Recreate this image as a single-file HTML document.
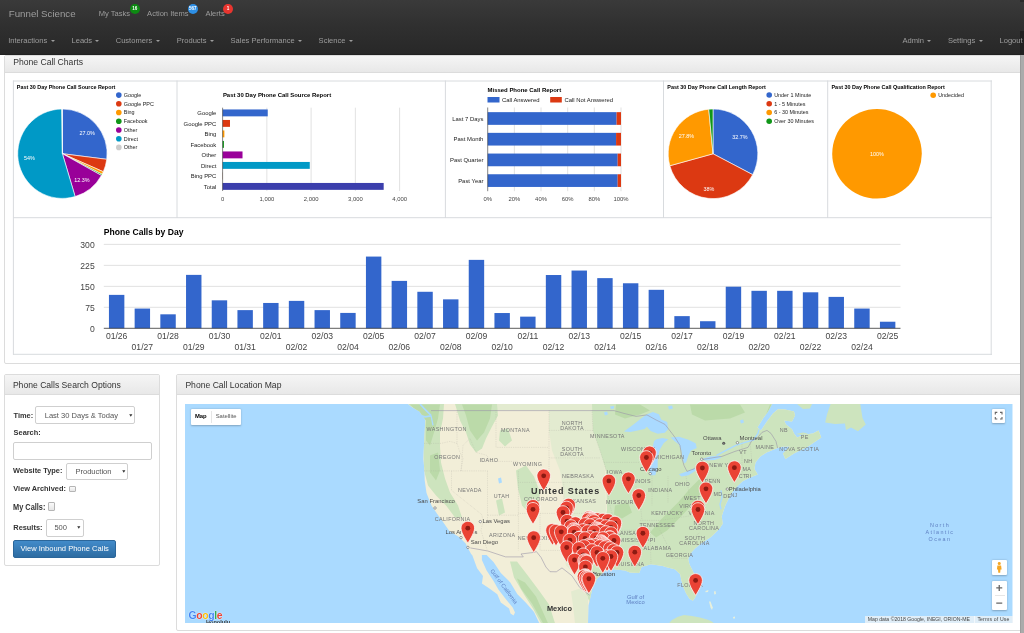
<!DOCTYPE html><html><head><meta charset="utf-8"><title>Funnel Science</title><style>
*{box-sizing:border-box;margin:0;padding:0}
html,body{width:1024px;height:633px;overflow:hidden;background:#fff}
body{position:relative;font-family:"Liberation Sans", Arial, sans-serif}
.a{position:absolute}
.t{position:absolute;white-space:nowrap;line-height:1}
svg text{font-family:"Liberation Sans", Arial, sans-serif}
.nav{left:0;top:0;width:1024px;height:54.8px;background:linear-gradient(to bottom,#3a3a3a 0%,#303030 45%,#282828 97%,#1e1e1e 100%)}
.nt{color:#9d9d9d}
.car{display:inline-block;width:0;height:0;border-top:2.2px solid #9d9d9d;border-left:2.2px solid transparent;border-right:2.2px solid transparent;vertical-align:middle;margin-left:3.4px;position:relative;top:-0.6px}
.panel{position:absolute;border:1px solid #dcdcdc;border-radius:2px;background:#fff}
.ph{position:absolute;left:0;right:0;top:0;background:linear-gradient(to bottom,#f5f5f5 0%,#e8e8e8 100%);border-bottom:1px solid #dcdcdc}
.sel{position:absolute;border:1px solid #cfcfcf;border-radius:2px;background:#fff}
.cb{position:absolute;border:1px solid #b5b5b5;border-radius:1px;background:linear-gradient(#fafafa,#e6e6e6)}
</style></head><body>
<div class="a nav"></div>
<div class="a" style="left:1020px;top:0;width:4px;height:2px;background:#2a2a2a"></div>
<div class="a" style="left:1019.5px;top:30.8px;width:4.5px;height:23.6px;background:#202020"></div>
<div class="t" style="left:8.80px;top:8.79px;font-size:9.7px;color:#9d9d9d;">Funnel Science</div>
<div class="t" style="left:98.80px;top:9.91px;font-size:7.55px;color:#9d9d9d;">My Tasks</div>
<div class="t" style="left:147.10px;top:9.91px;font-size:7.55px;color:#9d9d9d;">Action Items</div>
<div class="t" style="left:205.40px;top:9.91px;font-size:7.55px;color:#9d9d9d;">Alerts</div>
<div class="a" style="left:129.80px;top:4.20px;width:9.80px;height:9.80px;border-radius:50%;background:#0d8a12"></div><div class="t" style="left:134.70px;top:6.81px;font-size:4.6px;color:#fff;font-weight:bold;transform:translateX(-50%);">16</div>
<div class="a" style="left:187.80px;top:3.80px;width:10.00px;height:10.00px;border-radius:50%;background:#2d8fe6"></div><div class="t" style="left:192.80px;top:6.51px;font-size:4.6px;color:#fff;font-weight:bold;transform:translateX(-50%);">567</div>
<div class="a" style="left:223.10px;top:4.20px;width:9.80px;height:9.80px;border-radius:50%;background:#e8352f"></div><div class="t" style="left:228.00px;top:6.81px;font-size:4.6px;color:#fff;font-weight:bold;transform:translateX(-50%);">1</div>
<div class="t" style="left:8.20px;top:37.21px;font-size:7.55px;color:#9d9d9d;">Interactions<span class="car"></span></div>
<div class="t" style="left:71.50px;top:37.21px;font-size:7.55px;color:#9d9d9d;">Leads<span class="car"></span></div>
<div class="t" style="left:115.70px;top:37.21px;font-size:7.55px;color:#9d9d9d;">Customers<span class="car"></span></div>
<div class="t" style="left:176.70px;top:37.21px;font-size:7.55px;color:#9d9d9d;">Products<span class="car"></span></div>
<div class="t" style="left:230.50px;top:37.21px;font-size:7.55px;color:#9d9d9d;">Sales Performance<span class="car"></span></div>
<div class="t" style="left:318.60px;top:37.21px;font-size:7.55px;color:#9d9d9d;">Science<span class="car"></span></div>
<div class="t" style="left:902.50px;top:37.21px;font-size:7.55px;color:#9d9d9d;">Admin<span class="car"></span></div>
<div class="t" style="left:947.90px;top:37.21px;font-size:7.55px;color:#9d9d9d;">Settings<span class="car"></span></div>
<div class="t" style="left:999.50px;top:37.21px;font-size:7.55px;color:#9d9d9d;">Logout</div>
<div class="a" style="left:1020px;top:54.8px;width:4px;height:579px;background:#ababab;border-left:1px solid #9c9c9c;z-index:5"></div>
<div class="panel" style="left:4.1px;top:54.8px;width:1030px;height:309.2px"><div class="ph" style="height:17.4px"></div></div>
<div class="t" style="left:13.20px;top:57.82px;font-size:8.6px;color:#333;">Phone Call Charts</div>
<svg class="a" style="left:0;top:0" width="1024" height="633" viewBox="0 0 1024 633"><line x1="13" y1="81.0" x2="992" y2="81.0" stroke="#d8dbde" stroke-width="1"/><line x1="13" y1="217.7" x2="992" y2="217.7" stroke="#d8dbde" stroke-width="1"/><line x1="13" y1="354.3" x2="992" y2="354.3" stroke="#d8dbde" stroke-width="1"/><line x1="13.4" y1="80.5" x2="13.4" y2="354.8" stroke="#d8dbde" stroke-width="1"/><line x1="991.2" y1="80.5" x2="991.2" y2="354.8" stroke="#d8dbde" stroke-width="1"/><line x1="177.0" y1="80.5" x2="177.0" y2="218" stroke="#d8dbde" stroke-width="1"/><line x1="445.4" y1="80.5" x2="445.4" y2="218" stroke="#d8dbde" stroke-width="1"/><line x1="663.5" y1="80.5" x2="663.5" y2="218" stroke="#d8dbde" stroke-width="1"/><line x1="827.7" y1="80.5" x2="827.7" y2="218" stroke="#d8dbde" stroke-width="1"/><text x="16.80" y="89.00" font-size="5.41" fill="#000" font-weight="bold">Past 30 Day Phone Call Source Report</text><path d="M62.4,153.7 L62.40,109.00 A44.7,44.7 0 0 1 106.75,159.30 Z" fill="#3366cc" stroke="#fff" stroke-width="0.6" stroke-linejoin="round"/><path d="M62.4,153.7 L106.75,159.30 A44.7,44.7 0 0 1 103.31,171.71 Z" fill="#dc3912" stroke="#fff" stroke-width="0.6" stroke-linejoin="round"/><path d="M62.4,153.7 L103.31,171.71 A44.7,44.7 0 0 1 102.10,174.24 Z" fill="#ff9900" stroke="#fff" stroke-width="0.6" stroke-linejoin="round"/><path d="M62.4,153.7 L102.10,174.24 A44.7,44.7 0 0 1 101.43,175.48 Z" fill="#109618" stroke="#fff" stroke-width="0.6" stroke-linejoin="round"/><path d="M62.4,153.7 L101.43,175.48 A44.7,44.7 0 0 1 75.14,196.55 Z" fill="#990099" stroke="#fff" stroke-width="0.6" stroke-linejoin="round"/><path d="M62.4,153.7 L75.14,196.55 A44.7,44.7 0 1 1 61.84,109.00 Z" fill="#0099c6" stroke="#fff" stroke-width="0.6" stroke-linejoin="round"/><path d="M62.4,153.7 L61.84,109.00 A44.7,44.7 0 0 1 62.40,109.00 Z" fill="#cccccc" stroke="#fff" stroke-width="0.6" stroke-linejoin="round"/><text x="87.10" y="135.40" font-size="5.41" fill="#fff" text-anchor="middle">27.0%</text><text x="29.30" y="160.20" font-size="5.41" fill="#fff" text-anchor="middle">54%</text><text x="82.00" y="182.00" font-size="5.41" fill="#fff" text-anchor="middle">12.3%</text><circle cx="118.8" cy="95.10" r="2.8" fill="#3366cc"/><text x="123.80" y="97.00" font-size="5.41" fill="#222">Google</text><circle cx="118.8" cy="103.82" r="2.8" fill="#dc3912"/><text x="123.80" y="105.72" font-size="5.41" fill="#222">Google PPC</text><circle cx="118.8" cy="112.54" r="2.8" fill="#ff9900"/><text x="123.80" y="114.44" font-size="5.41" fill="#222">Bing</text><circle cx="118.8" cy="121.26" r="2.8" fill="#109618"/><text x="123.80" y="123.16" font-size="5.41" fill="#222">Facebook</text><circle cx="118.8" cy="129.98" r="2.8" fill="#990099"/><text x="123.80" y="131.88" font-size="5.41" fill="#222">Other</text><circle cx="118.8" cy="138.70" r="2.8" fill="#0099c6"/><text x="123.80" y="140.60" font-size="5.41" fill="#222">Direct</text><circle cx="118.8" cy="147.42" r="2.8" fill="#cccccc"/><text x="123.80" y="149.32" font-size="5.41" fill="#222">Other</text><text x="222.90" y="96.70" font-size="5.95" fill="#000" font-weight="bold">Past 30 Day Phone Call Source Report</text><line x1="266.85" y1="107.7" x2="266.85" y2="191" stroke="#cccccc" stroke-width="0.6"/><line x1="311.10" y1="107.7" x2="311.10" y2="191" stroke="#cccccc" stroke-width="0.6"/><line x1="355.35" y1="107.7" x2="355.35" y2="191" stroke="#cccccc" stroke-width="0.6"/><line x1="399.60" y1="107.7" x2="399.60" y2="191" stroke="#cccccc" stroke-width="0.6"/><rect x="222.6" y="109.45" width="45.13" height="6.9" fill="#3366cc"/><text x="216.30" y="115.00" font-size="5.9" fill="#222" text-anchor="end">Google</text><rect x="222.6" y="119.95" width="7.39" height="6.9" fill="#dc3912"/><text x="216.30" y="125.50" font-size="5.9" fill="#222" text-anchor="end">Google PPC</text><rect x="222.6" y="130.45" width="1.77" height="6.9" fill="#ff9900"/><text x="216.30" y="136.00" font-size="5.9" fill="#222" text-anchor="end">Bing</text><rect x="222.6" y="140.95" width="1.33" height="6.9" fill="#109618"/><text x="216.30" y="146.50" font-size="5.9" fill="#222" text-anchor="end">Facebook</text><rect x="222.6" y="151.45" width="19.91" height="6.9" fill="#990099"/><text x="216.30" y="157.00" font-size="5.9" fill="#222" text-anchor="end">Other</text><rect x="222.6" y="161.95" width="87.17" height="6.9" fill="#0099c6"/><text x="216.30" y="167.50" font-size="5.9" fill="#222" text-anchor="end">Direct</text><rect x="222.6" y="172.45" width="0.27" height="6.9" fill="#b77b5a"/><text x="216.30" y="178.00" font-size="5.9" fill="#222" text-anchor="end">Bing PPC</text><rect x="222.6" y="182.95" width="161.07" height="6.9" fill="#3b3eac"/><text x="216.30" y="188.50" font-size="5.9" fill="#222" text-anchor="end">Total</text><line x1="222.6" y1="107.7" x2="222.6" y2="191" stroke="#333" stroke-width="0.6"/><text x="222.60" y="200.50" font-size="5.9" fill="#444" text-anchor="middle">0</text><text x="266.85" y="200.50" font-size="5.9" fill="#444" text-anchor="middle">1,000</text><text x="311.10" y="200.50" font-size="5.9" fill="#444" text-anchor="middle">2,000</text><text x="355.35" y="200.50" font-size="5.9" fill="#444" text-anchor="middle">3,000</text><text x="399.60" y="200.50" font-size="5.9" fill="#444" text-anchor="middle">4,000</text><text x="487.50" y="91.70" font-size="5.98" fill="#000" font-weight="bold">Missed Phone Call Report</text><rect x="487.5" y="97" width="12" height="5.5" fill="#3366cc"/><text x="501.90" y="101.80" font-size="5.92" fill="#222">Call Answered</text><rect x="550.2" y="97" width="11.6" height="5.5" fill="#dc3912"/><text x="564.40" y="101.80" font-size="5.92" fill="#222">Call Not Answered</text><line x1="514.36" y1="107.5" x2="514.36" y2="191.2" stroke="#cccccc" stroke-width="0.6"/><line x1="541.02" y1="107.5" x2="541.02" y2="191.2" stroke="#cccccc" stroke-width="0.6"/><line x1="567.68" y1="107.5" x2="567.68" y2="191.2" stroke="#cccccc" stroke-width="0.6"/><line x1="594.34" y1="107.5" x2="594.34" y2="191.2" stroke="#cccccc" stroke-width="0.6"/><line x1="621.00" y1="107.5" x2="621.00" y2="191.2" stroke="#cccccc" stroke-width="0.6"/><rect x="487.7" y="112.15" width="128.90" height="12.7" fill="#3366cc"/><rect x="616.60" y="112.15" width="4.40" height="12.7" fill="#dc3912"/><text x="483.40" y="120.60" font-size="5.9" fill="#222" text-anchor="end">Last 7 Days</text><rect x="487.7" y="132.85" width="128.37" height="12.7" fill="#3366cc"/><rect x="616.07" y="132.85" width="4.93" height="12.7" fill="#dc3912"/><text x="483.40" y="141.30" font-size="5.9" fill="#222" text-anchor="end">Past Month</text><rect x="487.7" y="153.55" width="129.97" height="12.7" fill="#3366cc"/><rect x="617.67" y="153.55" width="3.33" height="12.7" fill="#dc3912"/><text x="483.40" y="162.00" font-size="5.9" fill="#222" text-anchor="end">Past Quarter</text><rect x="487.7" y="174.25" width="129.97" height="12.7" fill="#3366cc"/><rect x="617.67" y="174.25" width="3.33" height="12.7" fill="#dc3912"/><text x="483.40" y="182.70" font-size="5.9" fill="#222" text-anchor="end">Past Year</text><line x1="487.7" y1="107.5" x2="487.7" y2="191.2" stroke="#333" stroke-width="0.6"/><text x="487.70" y="200.60" font-size="5.9" fill="#444" text-anchor="middle">0%</text><text x="514.36" y="200.60" font-size="5.9" fill="#444" text-anchor="middle">20%</text><text x="541.02" y="200.60" font-size="5.9" fill="#444" text-anchor="middle">40%</text><text x="567.68" y="200.60" font-size="5.9" fill="#444" text-anchor="middle">60%</text><text x="594.34" y="200.60" font-size="5.9" fill="#444" text-anchor="middle">80%</text><text x="621.00" y="200.60" font-size="5.9" fill="#444" text-anchor="middle">100%</text><text x="667.30" y="89.00" font-size="5.43" fill="#000" font-weight="bold">Past 30 Day Phone Call Length Report</text><path d="M713.0,153.8 L713.00,109.00 A44.8,44.8 0 0 1 752.66,174.64 Z" fill="#3366cc" stroke="#fff" stroke-width="0.6" stroke-linejoin="round"/><path d="M713.0,153.8 L752.66,174.64 A44.8,44.8 0 0 1 669.83,165.76 Z" fill="#dc3912" stroke="#fff" stroke-width="0.6" stroke-linejoin="round"/><path d="M713.0,153.8 L669.83,165.76 A44.8,44.8 0 0 1 708.78,109.20 Z" fill="#ff9900" stroke="#fff" stroke-width="0.6" stroke-linejoin="round"/><path d="M713.0,153.8 L708.78,109.20 A44.8,44.8 0 0 1 713.00,109.00 Z" fill="#109618" stroke="#fff" stroke-width="0.6" stroke-linejoin="round"/><text x="740.00" y="139.20" font-size="5.41" fill="#fff" text-anchor="middle">32.7%</text><text x="709.00" y="191.20" font-size="5.41" fill="#fff" text-anchor="middle">38%</text><text x="686.50" y="137.90" font-size="5.41" fill="#fff" text-anchor="middle">27.8%</text><circle cx="769.2" cy="95.00" r="2.8" fill="#3366cc"/><text x="774.20" y="96.90" font-size="5.41" fill="#222">Under 1 Minute</text><circle cx="769.2" cy="103.75" r="2.8" fill="#dc3912"/><text x="774.20" y="105.65" font-size="5.41" fill="#222">1 - 5 Minutes</text><circle cx="769.2" cy="112.50" r="2.8" fill="#ff9900"/><text x="774.20" y="114.40" font-size="5.41" fill="#222">6 - 30 Minutes</text><circle cx="769.2" cy="121.25" r="2.8" fill="#109618"/><text x="774.20" y="123.15" font-size="5.41" fill="#222">Over 30 Minutes</text><text x="831.50" y="89.00" font-size="5.43" fill="#000" font-weight="bold">Past 30 Day Phone Call Qualification Report</text><circle cx="877" cy="153.8" r="44.8" fill="#ff9900"/><text x="877.00" y="155.80" font-size="5.41" fill="#fff" text-anchor="middle">100%</text><circle cx="933.2" cy="95.20" r="2.8" fill="#ff9900"/><text x="938.20" y="97.10" font-size="5.41" fill="#222">Undecided</text><text x="103.80" y="234.90" font-size="8.6" fill="#000" font-weight="bold">Phone Calls by Day</text><line x1="103.8" y1="244.40" x2="900.5" y2="244.40" stroke="#d9d9d9" stroke-width="0.8"/><line x1="103.8" y1="265.38" x2="900.5" y2="265.38" stroke="#d9d9d9" stroke-width="0.8"/><line x1="103.8" y1="286.35" x2="900.5" y2="286.35" stroke="#d9d9d9" stroke-width="0.8"/><line x1="103.8" y1="307.32" x2="900.5" y2="307.32" stroke="#d9d9d9" stroke-width="0.8"/><text x="94.70" y="247.70" font-size="8.6" fill="#444" text-anchor="end">300</text><text x="94.70" y="268.68" font-size="8.6" fill="#444" text-anchor="end">225</text><text x="94.70" y="289.65" font-size="8.6" fill="#444" text-anchor="end">150</text><text x="94.70" y="310.62" font-size="8.6" fill="#444" text-anchor="end">75</text><text x="94.70" y="331.60" font-size="8.6" fill="#444" text-anchor="end">0</text><rect x="108.94" y="294.88" width="15.42" height="33.42" fill="#3366cc"/><text x="116.65" y="338.70" font-size="8.6" fill="#444" text-anchor="middle">01/26</text><rect x="134.64" y="308.56" width="15.42" height="19.74" fill="#3366cc"/><text x="142.35" y="350.40" font-size="8.6" fill="#444" text-anchor="middle">01/27</text><rect x="160.34" y="314.32" width="15.42" height="13.98" fill="#3366cc"/><text x="168.05" y="338.70" font-size="8.6" fill="#444" text-anchor="middle">01/28</text><rect x="186.04" y="274.88" width="15.42" height="53.42" fill="#3366cc"/><text x="193.75" y="350.40" font-size="8.6" fill="#444" text-anchor="middle">01/29</text><rect x="211.74" y="300.33" width="15.42" height="27.97" fill="#3366cc"/><text x="219.45" y="338.70" font-size="8.6" fill="#444" text-anchor="middle">01/30</text><rect x="237.44" y="310.12" width="15.42" height="18.18" fill="#3366cc"/><text x="245.15" y="350.40" font-size="8.6" fill="#444" text-anchor="middle">01/31</text><rect x="263.14" y="302.96" width="15.42" height="25.34" fill="#3366cc"/><text x="270.85" y="338.70" font-size="8.6" fill="#444" text-anchor="middle">02/01</text><rect x="288.84" y="300.89" width="15.42" height="27.41" fill="#3366cc"/><text x="296.55" y="350.40" font-size="8.6" fill="#444" text-anchor="middle">02/02</text><rect x="314.54" y="310.12" width="15.42" height="18.18" fill="#3366cc"/><text x="322.25" y="338.70" font-size="8.6" fill="#444" text-anchor="middle">02/03</text><rect x="340.24" y="312.92" width="15.42" height="15.38" fill="#3366cc"/><text x="347.95" y="350.40" font-size="8.6" fill="#444" text-anchor="middle">02/04</text><rect x="365.94" y="256.57" width="15.42" height="71.73" fill="#3366cc"/><text x="373.65" y="338.70" font-size="8.6" fill="#444" text-anchor="middle">02/05</text><rect x="391.64" y="280.90" width="15.42" height="47.40" fill="#3366cc"/><text x="399.35" y="350.40" font-size="8.6" fill="#444" text-anchor="middle">02/06</text><rect x="417.34" y="291.78" width="15.42" height="36.52" fill="#3366cc"/><text x="425.05" y="338.70" font-size="8.6" fill="#444" text-anchor="middle">02/07</text><rect x="443.04" y="299.35" width="15.42" height="28.95" fill="#3366cc"/><text x="450.75" y="350.40" font-size="8.6" fill="#444" text-anchor="middle">02/08</text><rect x="468.74" y="259.87" width="15.42" height="68.43" fill="#3366cc"/><text x="476.45" y="338.70" font-size="8.6" fill="#444" text-anchor="middle">02/09</text><rect x="494.44" y="313.03" width="15.42" height="15.27" fill="#3366cc"/><text x="502.15" y="350.40" font-size="8.6" fill="#444" text-anchor="middle">02/10</text><rect x="520.14" y="316.64" width="15.42" height="11.66" fill="#3366cc"/><text x="527.85" y="338.70" font-size="8.6" fill="#444" text-anchor="middle">02/11</text><rect x="545.84" y="275.02" width="15.42" height="53.28" fill="#3366cc"/><text x="553.55" y="350.40" font-size="8.6" fill="#444" text-anchor="middle">02/12</text><rect x="571.54" y="270.55" width="15.42" height="57.75" fill="#3366cc"/><text x="579.25" y="338.70" font-size="8.6" fill="#444" text-anchor="middle">02/13</text><rect x="597.24" y="278.13" width="15.42" height="50.17" fill="#3366cc"/><text x="604.95" y="350.40" font-size="8.6" fill="#444" text-anchor="middle">02/14</text><rect x="622.94" y="283.27" width="15.42" height="45.03" fill="#3366cc"/><text x="630.65" y="338.70" font-size="8.6" fill="#444" text-anchor="middle">02/15</text><rect x="648.64" y="289.82" width="15.42" height="38.48" fill="#3366cc"/><text x="656.35" y="350.40" font-size="8.6" fill="#444" text-anchor="middle">02/16</text><rect x="674.34" y="316.13" width="15.42" height="12.17" fill="#3366cc"/><text x="682.05" y="338.70" font-size="8.6" fill="#444" text-anchor="middle">02/17</text><rect x="700.04" y="321.22" width="15.42" height="7.08" fill="#3366cc"/><text x="707.75" y="350.40" font-size="8.6" fill="#444" text-anchor="middle">02/18</text><rect x="725.74" y="286.71" width="15.42" height="41.59" fill="#3366cc"/><text x="733.45" y="338.70" font-size="8.6" fill="#444" text-anchor="middle">02/19</text><rect x="751.44" y="290.82" width="15.42" height="37.48" fill="#3366cc"/><text x="759.15" y="350.40" font-size="8.6" fill="#444" text-anchor="middle">02/20</text><rect x="777.14" y="290.82" width="15.42" height="37.48" fill="#3366cc"/><text x="784.85" y="338.70" font-size="8.6" fill="#444" text-anchor="middle">02/21</text><rect x="802.84" y="292.31" width="15.42" height="35.99" fill="#3366cc"/><text x="810.55" y="350.40" font-size="8.6" fill="#444" text-anchor="middle">02/22</text><rect x="828.54" y="296.89" width="15.42" height="31.41" fill="#3366cc"/><text x="836.25" y="338.70" font-size="8.6" fill="#444" text-anchor="middle">02/23</text><rect x="854.24" y="308.56" width="15.42" height="19.74" fill="#3366cc"/><text x="861.95" y="350.40" font-size="8.6" fill="#444" text-anchor="middle">02/24</text><rect x="879.94" y="321.73" width="15.42" height="6.57" fill="#3366cc"/><text x="887.65" y="338.70" font-size="8.6" fill="#444" text-anchor="middle">02/25</text><line x1="103.8" y1="328.3" x2="900.5" y2="328.3" stroke="#333" stroke-width="0.8"/></svg>
<div class="panel" style="left:4.4px;top:374.2px;width:155.4px;height:191.8px"><div class="ph" style="height:20.2px"></div></div><div class="t" style="left:12.90px;top:380.72px;font-size:8.6px;color:#333;">Phone Calls Search Options</div><div class="t" style="left:13.60px;top:411.54px;font-size:7.4px;color:#333;font-weight:bold;">Time:</div><div class="sel" style="left:35.4px;top:406.4px;width:100.10px;height:18.00px"></div><div class="t" style="left:44.70px;top:411.71px;font-size:7.55px;color:#555;">Last 30 Days &amp; Today</div><svg class="a" style="left:128.90px;top:414.30px" width="4" height="3" viewBox="0 0 4 3"><path d="M0.2,0.2H3.4L1.8,2.8Z" fill="#333"/></svg><div class="t" style="left:13.60px;top:429.14px;font-size:7.4px;color:#333;font-weight:bold;">Search:</div><div class="sel" style="left:13.3px;top:441.5px;width:138.3px;height:18px"></div><div class="t" style="left:13.00px;top:467.44px;font-size:7.4px;color:#333;font-weight:bold;">Website Type:</div><div class="sel" style="left:66.3px;top:462.6px;width:62.20px;height:17.60px"></div><div class="t" style="left:75.40px;top:467.71px;font-size:7.55px;color:#555;">Production</div><svg class="a" style="left:121.90px;top:470.30px" width="4" height="3" viewBox="0 0 4 3"><path d="M0.2,0.2H3.4L1.8,2.8Z" fill="#333"/></svg><div class="t" style="left:13.30px;top:485.34px;font-size:7.4px;color:#333;font-weight:bold;">View Archived:</div><div class="cb" style="left:69.2px;top:485.9px;width:6.6px;height:6.6px"></div><div class="t" style="left:13.30px;top:502.07px;font-size:9.6px;color:#333;font-weight:bold;transform:scaleX(0.77);transform-origin:0 0;">My Calls:</div><div class="cb" style="left:48.3px;top:502.3px;width:6.5px;height:8.5px"></div><div class="t" style="left:13.30px;top:523.54px;font-size:7.4px;color:#333;font-weight:bold;">Results:</div><div class="sel" style="left:45.5px;top:518.5px;width:38.20px;height:18.00px"></div><div class="t" style="left:54.40px;top:523.81px;font-size:7.55px;color:#555;">500</div><svg class="a" style="left:77.10px;top:526.40px" width="4" height="3" viewBox="0 0 4 3"><path d="M0.2,0.2H3.4L1.8,2.8Z" fill="#333"/></svg><div class="a" style="left:13.3px;top:539.7px;width:102.7px;height:18.2px;border-radius:2px;border:1px solid #2b669a;background:linear-gradient(to bottom,#428bca 0%,#2d6ca2 100%)"></div><div class="t" style="left:64.65px;top:544.81px;font-size:7.55px;color:#fff;transform:translateX(-50%);">View Inbound Phone Calls</div><div class="panel" style="left:176.0px;top:374.3px;width:860px;height:257.2px"><div class="ph" style="height:20.2px"></div></div><div class="t" style="left:185.40px;top:380.92px;font-size:8.6px;color:#333;">Phone Call Location Map</div>
<svg class="a" style="left:185.0px;top:403.6px" width="827.5" height="219.2" viewBox="185.0 403.6 827.5 219.2"><defs><clipPath id="lc"><polygon points="408.0,403.6 772.0,403.6 768.0,411.0 763.0,418.0 757.5,427.0 761.0,430.0 767.0,421.0 773.0,413.0 778.0,408.8 785.0,409.0 794.0,411.0 795.0,415.0 792.0,421.0 784.0,420.0 786.0,424.0 792.0,428.8 794.0,433.0 797.0,437.0 805.0,434.0 813.0,433.0 818.5,430.0 821.3,437.0 808.0,446.0 794.0,453.0 785.4,458.6 783.0,453.0 790.0,446.0 783.0,446.0 777.6,447.6 766.5,452.0 760.0,456.4 755.5,462.0 754.4,468.6 757.7,474.1 750.0,477.0 742.6,480.8 737.0,486.0 731.2,493.0 725.5,504.5 721.7,515.8 722.7,523.4 719.6,528.0 711.0,536.5 705.6,540.0 701.6,542.7 694.9,548.0 690.2,553.4 688.2,558.8 689.5,564.2 692.9,570.9 695.6,577.6 698.3,584.3 697.6,591.0 695.6,596.4 692.9,600.4 689.5,598.4 686.2,593.0 683.5,587.0 681.5,580.3 680.1,573.6 674.8,568.9 666.7,566.8 662.7,565.5 651.0,563.8 641.6,566.7 639.2,572.6 629.8,572.0 625.2,570.2 611.1,568.5 606.4,569.0 597.0,578.4 592.3,587.8 590.6,596.0 588.5,605.0 588.0,622.8 539.3,622.8 534.0,611.6 525.7,602.1 517.4,593.9 510.3,582.0 500.8,572.5 493.7,561.9 486.6,554.7 481.9,554.7 481.9,559.5 486.6,570.1 493.7,580.8 498.4,589.1 506.7,599.8 512.7,607.1 515.0,612.0 513.5,615.0 510.5,613.0 509.1,608.1 500.8,602.1 497.3,593.9 489.0,587.9 481.9,583.2 483.0,575.5 477.1,567.8 472.4,555.0 470.8,553.0 468.3,548.3 465.7,543.2 459.4,536.9 449.3,530.6 443.0,521.7 436.7,512.9 431.6,505.3 426.5,492.6 424.7,480.0 424.4,470.0 423.4,458.6 423.7,450.8 425.0,425.4 425.4,419.5 419.5,411.0 411.0,406.0"/></clipPath></defs><rect x="185.0" y="403.6" width="827.5" height="219.19999999999993" fill="#aadaff"/><polygon points="408.0,403.6 772.0,403.6 768.0,411.0 763.0,418.0 757.5,427.0 761.0,430.0 767.0,421.0 773.0,413.0 778.0,408.8 785.0,409.0 794.0,411.0 795.0,415.0 792.0,421.0 784.0,420.0 786.0,424.0 792.0,428.8 794.0,433.0 797.0,437.0 805.0,434.0 813.0,433.0 818.5,430.0 821.3,437.0 808.0,446.0 794.0,453.0 785.4,458.6 783.0,453.0 790.0,446.0 783.0,446.0 777.6,447.6 766.5,452.0 760.0,456.4 755.5,462.0 754.4,468.6 757.7,474.1 750.0,477.0 742.6,480.8 737.0,486.0 731.2,493.0 725.5,504.5 721.7,515.8 722.7,523.4 719.6,528.0 711.0,536.5 705.6,540.0 701.6,542.7 694.9,548.0 690.2,553.4 688.2,558.8 689.5,564.2 692.9,570.9 695.6,577.6 698.3,584.3 697.6,591.0 695.6,596.4 692.9,600.4 689.5,598.4 686.2,593.0 683.5,587.0 681.5,580.3 680.1,573.6 674.8,568.9 666.7,566.8 662.7,565.5 651.0,563.8 641.6,566.7 639.2,572.6 629.8,572.0 625.2,570.2 611.1,568.5 606.4,569.0 597.0,578.4 592.3,587.8 590.6,596.0 588.5,605.0 588.0,622.8 539.3,622.8 534.0,611.6 525.7,602.1 517.4,593.9 510.3,582.0 500.8,572.5 493.7,561.9 486.6,554.7 481.9,554.7 481.9,559.5 486.6,570.1 493.7,580.8 498.4,589.1 506.7,599.8 512.7,607.1 515.0,612.0 513.5,615.0 510.5,613.0 509.1,608.1 500.8,602.1 497.3,593.9 489.0,587.9 481.9,583.2 483.0,575.5 477.1,567.8 472.4,555.0 470.8,553.0 468.3,548.3 465.7,543.2 459.4,536.9 449.3,530.6 443.0,521.7 436.7,512.9 431.6,505.3 426.5,492.6 424.7,480.0 424.4,470.0 423.4,458.6 423.7,450.8 425.0,425.4 425.4,419.5 419.5,411.0 411.0,406.0" fill="#f2eed8"/><g clip-path="url(#lc)"><polygon points="480.0,403.6 600.0,403.6 601.0,440.0 605.0,470.0 606.0,510.0 600.0,530.0 590.0,545.0 580.0,560.0 576.0,575.0 566.0,565.0 562.0,545.0 564.0,520.0 564.0,495.0 560.0,470.0 552.0,450.0 549.0,430.0 549.0,409.8 480.0,409.8" fill="#e3ebd0"/><polygon points="592.0,403.6 1012.0,403.6 1012.0,622.8 592.0,622.8 589.0,600.0 582.0,585.0 577.0,570.0 581.0,556.0 592.0,545.0 602.0,530.0 607.0,510.0 606.0,470.0 600.0,450.0 593.0,430.0" fill="#cde4be"/><polygon points="408.0,403.6 444.0,403.6 443.0,418.0 440.0,432.0 440.0,446.0 441.0,462.0 445.0,478.0 450.0,492.0 458.0,505.0 462.0,517.0 455.0,517.0 446.0,505.0 436.0,495.0 428.0,485.0 424.0,470.0 423.0,440.0 425.0,420.0" fill="#cde4be"/><polygon points="455.0,403.6 497.0,403.6 498.0,415.0 492.0,426.0 486.0,438.0 482.0,448.0 476.0,452.0 470.0,444.0 466.0,432.0 460.0,420.0" fill="#cde4be"/><polygon points="500.0,430.0 508.0,428.0 512.0,440.0 505.0,446.0 499.0,440.0" fill="#cde4be"/><polygon points="516.0,470.0 526.0,465.0 534.0,476.0 540.0,492.0 538.0,508.0 530.0,514.0 522.0,505.0 518.0,488.0" fill="#cde4be"/><polygon points="496.0,500.0 502.0,498.0 505.0,512.0 499.0,515.0" fill="#cde4be"/><polygon points="510.0,561.0 517.0,561.0 527.0,574.0 539.0,590.0 549.0,604.0 555.0,622.8 541.0,622.8 533.0,608.0 524.0,594.0 514.0,577.0" fill="#cde4be"/><polygon points="420.0,404.0 440.0,404.0 436.0,410.0 424.0,412.0" fill="#cde4be"/><polygon points="410.0,404.0 440.0,404.0 438.0,418.0 434.0,432.0 430.0,445.0 426.0,440.0 426.0,420.0" fill="#bbdaa9"/><polygon points="462.0,404.0 492.0,404.0 490.0,418.0 484.0,432.0 477.0,440.0 470.0,430.0 466.0,415.0" fill="#bbdaa9"/><polygon points="430.0,455.0 438.0,452.0 440.0,470.0 436.0,480.0 430.0,472.0" fill="#bbdaa9"/><polygon points="700.0,478.0 706.0,484.0 696.0,500.0 682.0,515.0 667.0,530.0 656.0,537.0 650.0,532.0 662.0,518.0 678.0,502.0 690.0,488.0" fill="#bbdaa9"/><polygon points="616.0,404.0 640.0,404.0 650.0,410.0 640.0,414.0 625.0,418.0 615.0,414.0" fill="#bbdaa9"/><polygon points="690.0,404.0 740.0,404.0 745.0,412.0 730.0,418.0 705.0,420.0 692.0,414.0" fill="#bbdaa9"/><polygon points="615.0,505.0 628.0,502.0 632.0,512.0 622.0,518.0 614.0,514.0" fill="#bbdaa9"/><polygon points="770.0,404.0 776.0,404.0 770.0,412.0 764.0,419.0" fill="#bbdaa9"/><polygon points="517.0,578.0 525.0,582.0 536.0,596.0 548.0,622.8 543.0,622.8 532.0,603.0 521.0,588.0" fill="#bbdaa9"/><polygon points="571,591 580,588 588,596 588,622.8 575,622.8 573,605" fill="#e3ebd0"/></g><polygon points="825.2,422.0 827.0,414.0 830.6,403.6 860.3,403.6 862.5,417.6 865.8,424.2 858.0,430.8 851.0,427.0 846.0,429.7 845.0,423.0 835.0,423.5" fill="#cde4be"/><polygon points="797.0,403.6 812.0,403.6 810.0,408.0 803.0,408.5" fill="#cde4be"/><polygon points="796.0,433.5 803.0,432.0 808.0,433.0 802.0,434.5" fill="#cde4be"/><polygon points="669.0,622.8 672.0,619.5 678.0,616.3 684.0,614.5 692.0,615.6 700.0,617.2 707.0,619.2 711.0,620.5 714.0,622.8" fill="#cde4be"/><polygon points="705.5,590.5 708.5,589.5 708.0,591.5 705.5,591.8" fill="#e8f0dc"/><polygon points="714.0,591.0 715.5,590.5 716.0,593.5 714.3,594.0" fill="#e8f0dc"/><polygon points="709.0,601.0 710.5,601.0 712.8,607.0 712.0,609.5 710.5,607.0" fill="#e8f0dc"/><polygon points="733.0,616.5 735.0,616.0 735.0,618.0 733.2,618.2" fill="#e8f0dc"/><polygon points="623.9,431.1 632.8,424.6 641.1,418.0 647.0,413.9 652.9,411.5 658.9,413.9 661.2,419.2 667.2,421.6 668.3,428.7 664.8,432.3 657.7,433.4 650.6,430.5 647.0,426.3 644.6,428.7 638.7,429.9 630.4,431.7" fill="#aadaff"/><polygon points="654.1,440.6 651.7,450.0 650.6,459.5 649.4,469.0 650.6,474.9 655.3,474.9 657.7,466.6 657.7,457.2 660.0,448.9 663.6,442.9 668.3,438.8 662.4,437.6 656.5,438.8" fill="#aadaff"/><polygon points="670.7,437.0 679.0,436.4 688.5,439.4 695.6,442.9 696.8,447.7 690.9,450.0 688.5,454.8 686.1,461.9 683.8,463.1 682.6,457.2 681.4,450.0 679.0,444.1 674.3,440.6" fill="#aadaff"/><polygon points="679.0,473.8 686.1,471.4 694.4,467.8 696.8,469.6 688.5,474.9 681.4,476.1" fill="#aadaff"/><polygon points="702.7,458.3 709.8,456.0 719.3,455.4 721.7,457.2 714.6,459.5 705.1,460.1" fill="#aadaff"/><polygon points="498.0,478.0 501.0,477.0 502.0,482.0 499.0,483.0" fill="#aadaff"/><polygon points="604.0,412.0 607.0,411.0 608.0,414.0 605.0,415.0" fill="#aadaff"/><polygon points="610.0,406.0 614.0,405.5 614.0,408.0 611.0,408.5" fill="#aadaff"/><polygon points="740.0,420.0 743.0,419.0 744.0,422.0 741.0,423.0" fill="#aadaff"/><polygon points="668.0,406.0 672.0,405.0 673.0,408.0 669.0,409.0" fill="#aadaff"/><polyline points="716.6,455 726,450 735.8,445 745,442 753.5,439.7 758,433 759,429" fill="none" stroke="#aadaff" stroke-width="1.5"/><polyline points="721,490 722,497 720,504 721,509" fill="none" stroke="#aadaff" stroke-width="1.4"/><polyline points="420,403.6 424,408 428,412 431,415" fill="none" stroke="#aadaff" stroke-width="1.6"/><polyline points="409,412 418,414.5 425,416.5 431,415.5" fill="none" stroke="#aadaff" stroke-width="1.8"/><polyline points="431,415 432,420 433,425" fill="none" stroke="#aadaff" stroke-width="1.3"/><polyline points="424,443 441,443 450,441 457,443" fill="none" stroke="#a8a39a" stroke-width="0.5" stroke-dasharray="0.8,1.0" opacity="0.55"/><polyline points="457,410 457,443 460,452 463,458 461,470.5" fill="none" stroke="#a8a39a" stroke-width="0.5" stroke-dasharray="0.8,1.0" opacity="0.55"/><polyline points="424,470.5 487.5,470.5" fill="none" stroke="#a8a39a" stroke-width="0.5" stroke-dasharray="0.8,1.0" opacity="0.55"/><polyline points="451.5,470.5 451.5,490 481.8,514.2 483,521 481,530 484,540 487,549" fill="none" stroke="#a8a39a" stroke-width="0.5" stroke-dasharray="0.8,1.0" opacity="0.55"/><polyline points="487.5,470.5 487.5,514.8 518.4,514.8" fill="none" stroke="#a8a39a" stroke-width="0.5" stroke-dasharray="0.8,1.0" opacity="0.55"/><polyline points="518.4,470.5 518.4,514.8 518.4,550" fill="none" stroke="#a8a39a" stroke-width="0.5" stroke-dasharray="0.8,1.0" opacity="0.55"/><polyline points="487.5,514.8 487.5,520" fill="none" stroke="#a8a39a" stroke-width="0.5" stroke-dasharray="0.8,1.0" opacity="0.55"/><polyline points="461,470.5 463,445 470,438 476,452 487,455 490,461 518.4,461" fill="none" stroke="#a8a39a" stroke-width="0.5" stroke-dasharray="0.8,1.0" opacity="0.55"/><polyline points="496,410 496,447 518.4,447" fill="none" stroke="#a8a39a" stroke-width="0.5" stroke-dasharray="0.8,1.0" opacity="0.55"/><polyline points="518.4,447 549,447" fill="none" stroke="#a8a39a" stroke-width="0.5" stroke-dasharray="0.8,1.0" opacity="0.55"/><polyline points="549,410 549,482" fill="none" stroke="#a8a39a" stroke-width="0.5" stroke-dasharray="0.8,1.0" opacity="0.55"/><polyline points="549,430 593,430" fill="none" stroke="#a8a39a" stroke-width="0.5" stroke-dasharray="0.8,1.0" opacity="0.55"/><polyline points="549,457.5 600,457.5" fill="none" stroke="#a8a39a" stroke-width="0.5" stroke-dasharray="0.8,1.0" opacity="0.55"/><polyline points="518.4,482 563.7,482 563.7,513 600,513" fill="none" stroke="#a8a39a" stroke-width="0.5" stroke-dasharray="0.8,1.0" opacity="0.55"/><polyline points="518.4,513 563.7,513" fill="none" stroke="#a8a39a" stroke-width="0.5" stroke-dasharray="0.8,1.0" opacity="0.55"/><polyline points="540,513 540,550 563.7,550 563.7,525 600,530" fill="none" stroke="#a8a39a" stroke-width="0.5" stroke-dasharray="0.8,1.0" opacity="0.55"/><polyline points="592,410 593,430 600,450 604,462 606,470" fill="none" stroke="#a8a39a" stroke-width="0.5" stroke-dasharray="0.8,1.0" opacity="0.55"/><polyline points="563.7,482 601,482" fill="none" stroke="#a8a39a" stroke-width="0.5" stroke-dasharray="0.8,1.0" opacity="0.55"/><polyline points="604,462 640,462" fill="none" stroke="#a8a39a" stroke-width="0.5" stroke-dasharray="0.8,1.0" opacity="0.55"/><polyline points="606,470 611,486 608,497 612,513" fill="none" stroke="#a8a39a" stroke-width="0.5" stroke-dasharray="0.8,1.0" opacity="0.55"/><polyline points="612,513 614,530 640,530" fill="none" stroke="#a8a39a" stroke-width="0.5" stroke-dasharray="0.8,1.0" opacity="0.55"/><polyline points="640,520 660,520 700,514" fill="none" stroke="#a8a39a" stroke-width="0.5" stroke-dasharray="0.8,1.0" opacity="0.55"/><polyline points="636,486 640,500 642,520" fill="none" stroke="#a8a39a" stroke-width="0.5" stroke-dasharray="0.8,1.0" opacity="0.55"/><polyline points="652,467 652,505" fill="none" stroke="#a8a39a" stroke-width="0.5" stroke-dasharray="0.8,1.0" opacity="0.55"/><polyline points="668,476 668,503" fill="none" stroke="#a8a39a" stroke-width="0.5" stroke-dasharray="0.8,1.0" opacity="0.55"/><polyline points="686,476 690,498 700,502" fill="none" stroke="#a8a39a" stroke-width="0.5" stroke-dasharray="0.8,1.0" opacity="0.55"/><polyline points="640,530 638,555 636,563" fill="none" stroke="#a8a39a" stroke-width="0.5" stroke-dasharray="0.8,1.0" opacity="0.55"/><polyline points="650,530 651,563" fill="none" stroke="#a8a39a" stroke-width="0.5" stroke-dasharray="0.8,1.0" opacity="0.55"/><polyline points="660,530 670,550 672,558 688,558" fill="none" stroke="#a8a39a" stroke-width="0.5" stroke-dasharray="0.8,1.0" opacity="0.55"/><polyline points="700,514 716,514" fill="none" stroke="#a8a39a" stroke-width="0.5" stroke-dasharray="0.8,1.0" opacity="0.55"/><polyline points="700,478 720,478" fill="none" stroke="#a8a39a" stroke-width="0.5" stroke-dasharray="0.8,1.0" opacity="0.55"/><polyline points="690,540 700,532" fill="none" stroke="#a8a39a" stroke-width="0.5" stroke-dasharray="0.8,1.0" opacity="0.55"/><polyline points="742,440 742,475" fill="none" stroke="#a8a39a" stroke-width="0.5" stroke-dasharray="0.8,1.0" opacity="0.55"/><polyline points="750,440 752,462" fill="none" stroke="#a8a39a" stroke-width="0.5" stroke-dasharray="0.8,1.0" opacity="0.55"/><polyline points="431,410.2 614,410.2 624,413 636,416 647,414.5 655,419 665,424 672,433 675,437 680,445 682,458 684,465 687,471 694,468.5 703,459 715,457 722,456 735,451 748,447 752,440 757,438 762,432 767,430 771,433 776,441 777.6,447.6" fill="none" stroke="#9a96a8" stroke-width="0.6"/><polyline points="470.3,547.5 487.8,550.6 505.6,556.5 523.3,556.5 521,553.6 534,552 536.4,551.2 541.1,557.1 545.9,566.6 550,571.3 556.3,571.4 562,567.5 571.9,575.3 579.7,587 589.5,594.8" fill="none" stroke="#9a96a8" stroke-width="0.6"/><text x="426.50" y="431.00" font-size="5.4" fill="#767676" letter-spacing="0.35">WASHINGTON</text><text x="501.00" y="431.20" font-size="5.4" fill="#767676" letter-spacing="0.35">MONTANA</text><text x="561.70" y="424.30" font-size="5.4" fill="#767676" letter-spacing="0.35">NORTH</text><text x="560.20" y="429.90" font-size="5.4" fill="#767676" letter-spacing="0.35">DAKOTA</text><text x="590.10" y="437.90" font-size="5.4" fill="#767676" letter-spacing="0.35">MINNESOTA</text><text x="434.30" y="459.10" font-size="5.4" fill="#767676" letter-spacing="0.35">OREGON</text><text x="479.50" y="461.30" font-size="5.4" fill="#767676" letter-spacing="0.35">IDAHO</text><text x="561.70" y="450.50" font-size="5.4" fill="#767676" letter-spacing="0.35">SOUTH</text><text x="560.20" y="455.60" font-size="5.4" fill="#767676" letter-spacing="0.35">DAKOTA</text><text x="621.00" y="450.80" font-size="5.4" fill="#767676" letter-spacing="0.35">WISCONSIN</text><text x="654.60" y="458.80" font-size="5.4" fill="#767676" letter-spacing="0.35">MICHIGAN</text><text x="513.00" y="465.20" font-size="5.4" fill="#767676" letter-spacing="0.35">WYOMING</text><text x="562.10" y="477.80" font-size="5.4" fill="#767676" letter-spacing="0.35">NEBRASKA</text><text x="607.10" y="473.80" font-size="5.4" fill="#767676" letter-spacing="0.35">IOWA</text><text x="458.00" y="492.10" font-size="5.4" fill="#767676" letter-spacing="0.35">NEVADA</text><text x="493.80" y="497.50" font-size="5.4" fill="#767676" letter-spacing="0.35">UTAH</text><text x="524.10" y="500.50" font-size="5.4" fill="#767676" letter-spacing="0.35">COLORADO</text><text x="572.40" y="502.40" font-size="5.4" fill="#767676" letter-spacing="0.35">KANSAS</text><text x="606.10" y="503.90" font-size="5.4" fill="#767676" letter-spacing="0.35">MISSOURI</text><text x="626.00" y="482.40" font-size="5.4" fill="#767676" letter-spacing="0.35">ILLINOIS</text><text x="648.30" y="491.60" font-size="5.4" fill="#767676" letter-spacing="0.35">INDIANA</text><text x="674.80" y="485.60" font-size="5.4" fill="#767676" letter-spacing="0.35">OHIO</text><text x="434.80" y="520.50" font-size="5.4" fill="#767676" letter-spacing="0.35">CALIFORNIA</text><text x="489.10" y="536.70" font-size="5.4" fill="#767676" letter-spacing="0.35">ARIZONA</text><text x="517.80" y="540.10" font-size="5.4" fill="#767676" letter-spacing="0.35">NEW MEXICO</text><text x="608.00" y="534.20" font-size="5.4" fill="#767676" letter-spacing="0.35">ARKANSAS</text><text x="639.40" y="526.40" font-size="5.4" fill="#767676" letter-spacing="0.35">TENNESSEE</text><text x="651.20" y="514.90" font-size="5.4" fill="#767676" letter-spacing="0.35">KENTUCKY</text><text x="619.60" y="541.50" font-size="5.4" fill="#767676" letter-spacing="0.35">MISSISSIPPI</text><text x="643.60" y="549.60" font-size="5.4" fill="#767676" letter-spacing="0.35">ALABAMA</text><text x="665.70" y="556.70" font-size="5.4" fill="#767676" letter-spacing="0.35">GEORGIA</text><text x="684.60" y="539.50" font-size="5.4" fill="#767676" letter-spacing="0.35">SOUTH</text><text x="679.30" y="544.60" font-size="5.4" fill="#767676" letter-spacing="0.35">CAROLINA</text><text x="693.50" y="524.40" font-size="5.4" fill="#767676" letter-spacing="0.35">NORTH</text><text x="689.00" y="529.80" font-size="5.4" fill="#767676" letter-spacing="0.35">CAROLINA</text><text x="688.40" y="514.60" font-size="5.4" fill="#767676" letter-spacing="0.35">VIRGINIA</text><text x="684.00" y="500.10" font-size="5.4" fill="#767676" letter-spacing="0.35">WEST</text><text x="679.30" y="507.70" font-size="5.4" fill="#767676" letter-spacing="0.35">VIRGINIA</text><text x="704.50" y="483.00" font-size="5.4" fill="#767676" letter-spacing="0.35">PENN</text><text x="709.30" y="466.60" font-size="5.4" fill="#767676" letter-spacing="0.35">NEW YORK</text><text x="739.30" y="454.00" font-size="5.4" fill="#767676" letter-spacing="0.35">VT</text><text x="744.00" y="462.50" font-size="5.4" fill="#767676" letter-spacing="0.35">NH</text><text x="742.40" y="470.70" font-size="5.4" fill="#767676" letter-spacing="0.35">MA</text><text x="738.80" y="477.30" font-size="5.4" fill="#767676" letter-spacing="0.35">CT</text><text x="745.50" y="477.30" font-size="5.4" fill="#767676" letter-spacing="0.35">RI</text><text x="713.40" y="495.40" font-size="5.4" fill="#767676" letter-spacing="0.35">MD</text><text x="723.20" y="497.60" font-size="5.4" fill="#767676" letter-spacing="0.35">DE</text><text x="730.40" y="496.30" font-size="5.4" fill="#767676" letter-spacing="0.35">NJ</text><text x="755.50" y="448.70" font-size="5.4" fill="#767676" letter-spacing="0.35">MAINE</text><text x="779.80" y="431.50" font-size="5.4" fill="#767676" letter-spacing="0.35">NB</text><text x="800.80" y="438.20" font-size="5.4" fill="#767676" letter-spacing="0.35">PE</text><text x="779.30" y="451.10" font-size="5.4" fill="#767676" letter-spacing="0.35">NOVA SCOTIA</text><text x="612.60" y="565.50" font-size="5.4" fill="#767676" letter-spacing="0.35">LOUISIANA</text><text x="677.30" y="586.60" font-size="5.4" fill="#767676" letter-spacing="0.35">FLORIDA</text><circle cx="435" cy="507.6" r="1.2" fill="#fff" stroke="#555" stroke-width="0.55"/><text x="417.30" y="503.10" font-size="5.9" fill="#4a4a4a">San Francisco</text><circle cx="461" cy="537.2" r="1.2" fill="#fff" stroke="#555" stroke-width="0.55"/><text x="445.40" y="533.40" font-size="5.9" fill="#4a4a4a">Los Angeles</text><circle cx="480.3" cy="521.2" r="1.2" fill="#fff" stroke="#555" stroke-width="0.55"/><text x="482.40" y="522.80" font-size="5.9" fill="#4a4a4a">Las Vegas</text><circle cx="467.9" cy="547" r="1.2" fill="#fff" stroke="#555" stroke-width="0.55"/><text x="470.70" y="543.50" font-size="5.9" fill="#4a4a4a">San Diego</text><circle cx="650.2" cy="473.2" r="1.2" fill="#fff" stroke="#555" stroke-width="0.55"/><text x="639.90" y="470.20" font-size="5.9" fill="#4a4a4a">Chicago</text><circle cx="701.7" cy="458.8" r="1.2" fill="#fff" stroke="#555" stroke-width="0.55"/><text x="691.60" y="454.60" font-size="5.9" fill="#4a4a4a">Toronto</text><circle cx="723.7" cy="442.9" r="1.5" fill="#555"/><circle cx="723.7" cy="442.9" r="0.6" fill="#888"/><text x="703.00" y="439.90" font-size="5.9" fill="#4a4a4a">Ottawa</text><circle cx="737.4" cy="442.3" r="1.2" fill="#fff" stroke="#555" stroke-width="0.55"/><text x="739.60" y="439.90" font-size="5.9" fill="#4a4a4a">Montreal</text><circle cx="727.3" cy="488.7" r="1.2" fill="#fff" stroke="#555" stroke-width="0.55"/><text x="728.80" y="490.40" font-size="5.9" fill="#4a4a4a">Philadelphia</text><circle cx="594" cy="573" r="1.2" fill="#fff" stroke="#555" stroke-width="0.55"/><text x="592.40" y="575.60" font-size="6.1" fill="#3a3a3a">Houston</text><text x="206.00" y="623.90" font-size="5.6" fill="#3a3a3a" font-weight="bold">Honolulu</text><text x="531.00" y="493.50" font-size="9" fill="#333" font-weight="bold" letter-spacing="0.9">United States</text><text x="546.90" y="611.00" font-size="7.4" fill="#333" font-weight="bold">Mexico</text><text x="635.50" y="598.40" font-size="5.8" fill="#5f80c2" text-anchor="middle">Gulf of</text><text x="635.50" y="603.40" font-size="5.8" fill="#5f80c2" text-anchor="middle">Mexico</text><text x="940.00" y="527.10" font-size="5.4" fill="#5f80c2" text-anchor="middle" letter-spacing="1.4">North</text><text x="940.00" y="533.90" font-size="5.4" fill="#5f80c2" text-anchor="middle" letter-spacing="1.4">Atlantic</text><text x="940.00" y="541.10" font-size="5.4" fill="#5f80c2" text-anchor="middle" letter-spacing="1.4">Ocean</text><text x="0.00" y="2.00" font-size="5.6" fill="#5f80c2" text-anchor="middle" transform="translate(504,586) rotate(53.5)">Gulf of California</text><g transform="translate(642.70,445.63) scale(0.504)"><path d="M13.5,0C6.04,0 0,6.04 0,13.5C0,23.6 13.5,43 13.5,43S27,23.6 27,13.5C27,6.04 20.96,0 13.5,0Z" fill="#ea4335" stroke="#fff" stroke-opacity="0.9" stroke-width="1.7"/><circle cx="13.5" cy="13.5" r="4.8" fill="#8c1a12"/></g><g transform="translate(639.60,450.33) scale(0.504)"><path d="M13.5,0C6.04,0 0,6.04 0,13.5C0,23.6 13.5,43 13.5,43S27,23.6 27,13.5C27,6.04 20.96,0 13.5,0Z" fill="#ea4335" stroke="#fff" stroke-opacity="0.9" stroke-width="1.7"/><circle cx="13.5" cy="13.5" r="4.8" fill="#8c1a12"/></g><g transform="translate(727.60,460.43) scale(0.504)"><path d="M13.5,0C6.04,0 0,6.04 0,13.5C0,23.6 13.5,43 13.5,43S27,23.6 27,13.5C27,6.04 20.96,0 13.5,0Z" fill="#ea4335" stroke="#fff" stroke-opacity="0.9" stroke-width="1.7"/><circle cx="13.5" cy="13.5" r="4.8" fill="#8c1a12"/></g><g transform="translate(695.60,460.83) scale(0.504)"><path d="M13.5,0C6.04,0 0,6.04 0,13.5C0,23.6 13.5,43 13.5,43S27,23.6 27,13.5C27,6.04 20.96,0 13.5,0Z" fill="#ea4335" stroke="#fff" stroke-opacity="0.9" stroke-width="1.7"/><circle cx="13.5" cy="13.5" r="4.8" fill="#8c1a12"/></g><g transform="translate(536.90,468.63) scale(0.504)"><path d="M13.5,0C6.04,0 0,6.04 0,13.5C0,23.6 13.5,43 13.5,43S27,23.6 27,13.5C27,6.04 20.96,0 13.5,0Z" fill="#ea4335" stroke="#fff" stroke-opacity="0.9" stroke-width="1.7"/><circle cx="13.5" cy="13.5" r="4.8" fill="#8c1a12"/></g><g transform="translate(621.60,471.63) scale(0.504)"><path d="M13.5,0C6.04,0 0,6.04 0,13.5C0,23.6 13.5,43 13.5,43S27,23.6 27,13.5C27,6.04 20.96,0 13.5,0Z" fill="#ea4335" stroke="#fff" stroke-opacity="0.9" stroke-width="1.7"/><circle cx="13.5" cy="13.5" r="4.8" fill="#8c1a12"/></g><g transform="translate(602.10,473.73) scale(0.504)"><path d="M13.5,0C6.04,0 0,6.04 0,13.5C0,23.6 13.5,43 13.5,43S27,23.6 27,13.5C27,6.04 20.96,0 13.5,0Z" fill="#ea4335" stroke="#fff" stroke-opacity="0.9" stroke-width="1.7"/><circle cx="13.5" cy="13.5" r="4.8" fill="#8c1a12"/></g><g transform="translate(699.20,481.63) scale(0.504)"><path d="M13.5,0C6.04,0 0,6.04 0,13.5C0,23.6 13.5,43 13.5,43S27,23.6 27,13.5C27,6.04 20.96,0 13.5,0Z" fill="#ea4335" stroke="#fff" stroke-opacity="0.9" stroke-width="1.7"/><circle cx="13.5" cy="13.5" r="4.8" fill="#8c1a12"/></g><g transform="translate(632.00,488.33) scale(0.504)"><path d="M13.5,0C6.04,0 0,6.04 0,13.5C0,23.6 13.5,43 13.5,43S27,23.6 27,13.5C27,6.04 20.96,0 13.5,0Z" fill="#ea4335" stroke="#fff" stroke-opacity="0.9" stroke-width="1.7"/><circle cx="13.5" cy="13.5" r="4.8" fill="#8c1a12"/></g><g transform="translate(561.90,497.83) scale(0.504)"><path d="M13.5,0C6.04,0 0,6.04 0,13.5C0,23.6 13.5,43 13.5,43S27,23.6 27,13.5C27,6.04 20.96,0 13.5,0Z" fill="#ea4335" stroke="#fff" stroke-opacity="0.9" stroke-width="1.7"/><circle cx="13.5" cy="13.5" r="4.8" fill="#8c1a12"/></g><g transform="translate(526.20,499.13) scale(0.504)"><path d="M13.5,0C6.04,0 0,6.04 0,13.5C0,23.6 13.5,43 13.5,43S27,23.6 27,13.5C27,6.04 20.96,0 13.5,0Z" fill="#ea4335" stroke="#fff" stroke-opacity="0.9" stroke-width="1.7"/><circle cx="13.5" cy="13.5" r="4.8" fill="#8c1a12"/></g><g transform="translate(691.20,499.83) scale(0.504)"><path d="M13.5,0C6.04,0 0,6.04 0,13.5C0,23.6 13.5,43 13.5,43S27,23.6 27,13.5C27,6.04 20.96,0 13.5,0Z" fill="#ea4335" stroke="#fff" stroke-opacity="0.9" stroke-width="1.7"/><circle cx="13.5" cy="13.5" r="4.8" fill="#8c1a12"/></g><g transform="translate(559.70,500.83) scale(0.504)"><path d="M13.5,0C6.04,0 0,6.04 0,13.5C0,23.6 13.5,43 13.5,43S27,23.6 27,13.5C27,6.04 20.96,0 13.5,0Z" fill="#ea4335" stroke="#fff" stroke-opacity="0.9" stroke-width="1.7"/><circle cx="13.5" cy="13.5" r="4.8" fill="#8c1a12"/></g><g transform="translate(526.20,502.13) scale(0.504)"><path d="M13.5,0C6.04,0 0,6.04 0,13.5C0,23.6 13.5,43 13.5,43S27,23.6 27,13.5C27,6.04 20.96,0 13.5,0Z" fill="#ea4335" stroke="#fff" stroke-opacity="0.9" stroke-width="1.7"/><circle cx="13.5" cy="13.5" r="4.8" fill="#8c1a12"/></g><g transform="translate(691.20,502.33) scale(0.504)"><path d="M13.5,0C6.04,0 0,6.04 0,13.5C0,23.6 13.5,43 13.5,43S27,23.6 27,13.5C27,6.04 20.96,0 13.5,0Z" fill="#ea4335" stroke="#fff" stroke-opacity="0.9" stroke-width="1.7"/><circle cx="13.5" cy="13.5" r="4.8" fill="#8c1a12"/></g><g transform="translate(556.20,505.33) scale(0.504)"><path d="M13.5,0C6.04,0 0,6.04 0,13.5C0,23.6 13.5,43 13.5,43S27,23.6 27,13.5C27,6.04 20.96,0 13.5,0Z" fill="#ea4335" stroke="#fff" stroke-opacity="0.9" stroke-width="1.7"/><circle cx="13.5" cy="13.5" r="4.8" fill="#8c1a12"/></g><g transform="translate(582.50,510.33) scale(0.504)"><path d="M13.5,0C6.04,0 0,6.04 0,13.5C0,23.6 13.5,43 13.5,43S27,23.6 27,13.5C27,6.04 20.96,0 13.5,0Z" fill="#ea4335" stroke="#fff" stroke-opacity="0.9" stroke-width="1.7"/><circle cx="13.5" cy="13.5" r="4.8" fill="#8c1a12"/></g><g transform="translate(583.40,511.13) scale(0.504)"><path d="M13.5,0C6.04,0 0,6.04 0,13.5C0,23.6 13.5,43 13.5,43S27,23.6 27,13.5C27,6.04 20.96,0 13.5,0Z" fill="#ea4335" stroke="#fff" stroke-opacity="0.9" stroke-width="1.7"/><circle cx="13.5" cy="13.5" r="4.8" fill="#8c1a12"/></g><g transform="translate(585.20,511.83) scale(0.504)"><path d="M13.5,0C6.04,0 0,6.04 0,13.5C0,23.6 13.5,43 13.5,43S27,23.6 27,13.5C27,6.04 20.96,0 13.5,0Z" fill="#ea4335" stroke="#fff" stroke-opacity="0.9" stroke-width="1.7"/><circle cx="13.5" cy="13.5" r="4.8" fill="#8c1a12"/></g><g transform="translate(584.30,511.93) scale(0.504)"><path d="M13.5,0C6.04,0 0,6.04 0,13.5C0,23.6 13.5,43 13.5,43S27,23.6 27,13.5C27,6.04 20.96,0 13.5,0Z" fill="#ea4335" stroke="#fff" stroke-opacity="0.9" stroke-width="1.7"/><circle cx="13.5" cy="13.5" r="4.8" fill="#8c1a12"/></g><g transform="translate(581.20,512.33) scale(0.504)"><path d="M13.5,0C6.04,0 0,6.04 0,13.5C0,23.6 13.5,43 13.5,43S27,23.6 27,13.5C27,6.04 20.96,0 13.5,0Z" fill="#ea4335" stroke="#fff" stroke-opacity="0.9" stroke-width="1.7"/><circle cx="13.5" cy="13.5" r="4.8" fill="#8c1a12"/></g><g transform="translate(590.20,512.33) scale(0.504)"><path d="M13.5,0C6.04,0 0,6.04 0,13.5C0,23.6 13.5,43 13.5,43S27,23.6 27,13.5C27,6.04 20.96,0 13.5,0Z" fill="#ea4335" stroke="#fff" stroke-opacity="0.9" stroke-width="1.7"/><circle cx="13.5" cy="13.5" r="4.8" fill="#8c1a12"/></g><g transform="translate(585.20,512.73) scale(0.504)"><path d="M13.5,0C6.04,0 0,6.04 0,13.5C0,23.6 13.5,43 13.5,43S27,23.6 27,13.5C27,6.04 20.96,0 13.5,0Z" fill="#ea4335" stroke="#fff" stroke-opacity="0.9" stroke-width="1.7"/><circle cx="13.5" cy="13.5" r="4.8" fill="#8c1a12"/></g><g transform="translate(596.20,512.83) scale(0.504)"><path d="M13.5,0C6.04,0 0,6.04 0,13.5C0,23.6 13.5,43 13.5,43S27,23.6 27,13.5C27,6.04 20.96,0 13.5,0Z" fill="#ea4335" stroke="#fff" stroke-opacity="0.9" stroke-width="1.7"/><circle cx="13.5" cy="13.5" r="4.8" fill="#8c1a12"/></g><g transform="translate(601.20,513.33) scale(0.504)"><path d="M13.5,0C6.04,0 0,6.04 0,13.5C0,23.6 13.5,43 13.5,43S27,23.6 27,13.5C27,6.04 20.96,0 13.5,0Z" fill="#ea4335" stroke="#fff" stroke-opacity="0.9" stroke-width="1.7"/><circle cx="13.5" cy="13.5" r="4.8" fill="#8c1a12"/></g><g transform="translate(586.10,513.53) scale(0.504)"><path d="M13.5,0C6.04,0 0,6.04 0,13.5C0,23.6 13.5,43 13.5,43S27,23.6 27,13.5C27,6.04 20.96,0 13.5,0Z" fill="#ea4335" stroke="#fff" stroke-opacity="0.9" stroke-width="1.7"/><circle cx="13.5" cy="13.5" r="4.8" fill="#8c1a12"/></g><g transform="translate(560.30,514.03) scale(0.504)"><path d="M13.5,0C6.04,0 0,6.04 0,13.5C0,23.6 13.5,43 13.5,43S27,23.6 27,13.5C27,6.04 20.96,0 13.5,0Z" fill="#ea4335" stroke="#fff" stroke-opacity="0.9" stroke-width="1.7"/><circle cx="13.5" cy="13.5" r="4.8" fill="#8c1a12"/></g><g transform="translate(587.00,514.33) scale(0.504)"><path d="M13.5,0C6.04,0 0,6.04 0,13.5C0,23.6 13.5,43 13.5,43S27,23.6 27,13.5C27,6.04 20.96,0 13.5,0Z" fill="#ea4335" stroke="#fff" stroke-opacity="0.9" stroke-width="1.7"/><circle cx="13.5" cy="13.5" r="4.8" fill="#8c1a12"/></g><g transform="translate(608.10,515.93) scale(0.504)"><path d="M13.5,0C6.04,0 0,6.04 0,13.5C0,23.6 13.5,43 13.5,43S27,23.6 27,13.5C27,6.04 20.96,0 13.5,0Z" fill="#ea4335" stroke="#fff" stroke-opacity="0.9" stroke-width="1.7"/><circle cx="13.5" cy="13.5" r="4.8" fill="#8c1a12"/></g><g transform="translate(608.10,515.93) scale(0.504)"><path d="M13.5,0C6.04,0 0,6.04 0,13.5C0,23.6 13.5,43 13.5,43S27,23.6 27,13.5C27,6.04 20.96,0 13.5,0Z" fill="#ea4335" stroke="#fff" stroke-opacity="0.9" stroke-width="1.7"/><circle cx="13.5" cy="13.5" r="4.8" fill="#8c1a12"/></g><g transform="translate(568.60,516.33) scale(0.504)"><path d="M13.5,0C6.04,0 0,6.04 0,13.5C0,23.6 13.5,43 13.5,43S27,23.6 27,13.5C27,6.04 20.96,0 13.5,0Z" fill="#ea4335" stroke="#fff" stroke-opacity="0.9" stroke-width="1.7"/><circle cx="13.5" cy="13.5" r="4.8" fill="#8c1a12"/></g><g transform="translate(578.20,517.33) scale(0.504)"><path d="M13.5,0C6.04,0 0,6.04 0,13.5C0,23.6 13.5,43 13.5,43S27,23.6 27,13.5C27,6.04 20.96,0 13.5,0Z" fill="#ea4335" stroke="#fff" stroke-opacity="0.9" stroke-width="1.7"/><circle cx="13.5" cy="13.5" r="4.8" fill="#8c1a12"/></g><g transform="translate(588.20,517.33) scale(0.504)"><path d="M13.5,0C6.04,0 0,6.04 0,13.5C0,23.6 13.5,43 13.5,43S27,23.6 27,13.5C27,6.04 20.96,0 13.5,0Z" fill="#ea4335" stroke="#fff" stroke-opacity="0.9" stroke-width="1.7"/><circle cx="13.5" cy="13.5" r="4.8" fill="#8c1a12"/></g><g transform="translate(583.20,518.33) scale(0.504)"><path d="M13.5,0C6.04,0 0,6.04 0,13.5C0,23.6 13.5,43 13.5,43S27,23.6 27,13.5C27,6.04 20.96,0 13.5,0Z" fill="#ea4335" stroke="#fff" stroke-opacity="0.9" stroke-width="1.7"/><circle cx="13.5" cy="13.5" r="4.8" fill="#8c1a12"/></g><g transform="translate(593.20,518.33) scale(0.504)"><path d="M13.5,0C6.04,0 0,6.04 0,13.5C0,23.6 13.5,43 13.5,43S27,23.6 27,13.5C27,6.04 20.96,0 13.5,0Z" fill="#ea4335" stroke="#fff" stroke-opacity="0.9" stroke-width="1.7"/><circle cx="13.5" cy="13.5" r="4.8" fill="#8c1a12"/></g><g transform="translate(564.20,519.33) scale(0.504)"><path d="M13.5,0C6.04,0 0,6.04 0,13.5C0,23.6 13.5,43 13.5,43S27,23.6 27,13.5C27,6.04 20.96,0 13.5,0Z" fill="#ea4335" stroke="#fff" stroke-opacity="0.9" stroke-width="1.7"/><circle cx="13.5" cy="13.5" r="4.8" fill="#8c1a12"/></g><g transform="translate(599.20,519.33) scale(0.504)"><path d="M13.5,0C6.04,0 0,6.04 0,13.5C0,23.6 13.5,43 13.5,43S27,23.6 27,13.5C27,6.04 20.96,0 13.5,0Z" fill="#ea4335" stroke="#fff" stroke-opacity="0.9" stroke-width="1.7"/><circle cx="13.5" cy="13.5" r="4.8" fill="#8c1a12"/></g><g transform="translate(604.20,520.33) scale(0.504)"><path d="M13.5,0C6.04,0 0,6.04 0,13.5C0,23.6 13.5,43 13.5,43S27,23.6 27,13.5C27,6.04 20.96,0 13.5,0Z" fill="#ea4335" stroke="#fff" stroke-opacity="0.9" stroke-width="1.7"/><circle cx="13.5" cy="13.5" r="4.8" fill="#8c1a12"/></g><g transform="translate(461.00,520.93) scale(0.504)"><path d="M13.5,0C6.04,0 0,6.04 0,13.5C0,23.6 13.5,43 13.5,43S27,23.6 27,13.5C27,6.04 20.96,0 13.5,0Z" fill="#ea4335" stroke="#fff" stroke-opacity="0.9" stroke-width="1.7"/><circle cx="13.5" cy="13.5" r="4.8" fill="#8c1a12"/></g><g transform="translate(589.40,521.33) scale(0.504)"><path d="M13.5,0C6.04,0 0,6.04 0,13.5C0,23.6 13.5,43 13.5,43S27,23.6 27,13.5C27,6.04 20.96,0 13.5,0Z" fill="#ea4335" stroke="#fff" stroke-opacity="0.9" stroke-width="1.7"/><circle cx="13.5" cy="13.5" r="4.8" fill="#8c1a12"/></g><g transform="translate(590.30,522.13) scale(0.504)"><path d="M13.5,0C6.04,0 0,6.04 0,13.5C0,23.6 13.5,43 13.5,43S27,23.6 27,13.5C27,6.04 20.96,0 13.5,0Z" fill="#ea4335" stroke="#fff" stroke-opacity="0.9" stroke-width="1.7"/><circle cx="13.5" cy="13.5" r="4.8" fill="#8c1a12"/></g><g transform="translate(566.85,522.33) scale(0.504)"><path d="M13.5,0C6.04,0 0,6.04 0,13.5C0,23.6 13.5,43 13.5,43S27,23.6 27,13.5C27,6.04 20.96,0 13.5,0Z" fill="#ea4335" stroke="#fff" stroke-opacity="0.9" stroke-width="1.7"/><circle cx="13.5" cy="13.5" r="4.8" fill="#8c1a12"/></g><g transform="translate(591.20,522.93) scale(0.504)"><path d="M13.5,0C6.04,0 0,6.04 0,13.5C0,23.6 13.5,43 13.5,43S27,23.6 27,13.5C27,6.04 20.96,0 13.5,0Z" fill="#ea4335" stroke="#fff" stroke-opacity="0.9" stroke-width="1.7"/><circle cx="13.5" cy="13.5" r="4.8" fill="#8c1a12"/></g><g transform="translate(545.70,523.13) scale(0.504)"><path d="M13.5,0C6.04,0 0,6.04 0,13.5C0,23.6 13.5,43 13.5,43S27,23.6 27,13.5C27,6.04 20.96,0 13.5,0Z" fill="#ea4335" stroke="#fff" stroke-opacity="0.9" stroke-width="1.7"/><circle cx="13.5" cy="13.5" r="4.8" fill="#8c1a12"/></g><g transform="translate(567.75,523.13) scale(0.504)"><path d="M13.5,0C6.04,0 0,6.04 0,13.5C0,23.6 13.5,43 13.5,43S27,23.6 27,13.5C27,6.04 20.96,0 13.5,0Z" fill="#ea4335" stroke="#fff" stroke-opacity="0.9" stroke-width="1.7"/><circle cx="13.5" cy="13.5" r="4.8" fill="#8c1a12"/></g><g transform="translate(576.20,523.33) scale(0.504)"><path d="M13.5,0C6.04,0 0,6.04 0,13.5C0,23.6 13.5,43 13.5,43S27,23.6 27,13.5C27,6.04 20.96,0 13.5,0Z" fill="#ea4335" stroke="#fff" stroke-opacity="0.9" stroke-width="1.7"/><circle cx="13.5" cy="13.5" r="4.8" fill="#8c1a12"/></g><g transform="translate(592.10,523.73) scale(0.504)"><path d="M13.5,0C6.04,0 0,6.04 0,13.5C0,23.6 13.5,43 13.5,43S27,23.6 27,13.5C27,6.04 20.96,0 13.5,0Z" fill="#ea4335" stroke="#fff" stroke-opacity="0.9" stroke-width="1.7"/><circle cx="13.5" cy="13.5" r="4.8" fill="#8c1a12"/></g><g transform="translate(549.20,523.83) scale(0.504)"><path d="M13.5,0C6.04,0 0,6.04 0,13.5C0,23.6 13.5,43 13.5,43S27,23.6 27,13.5C27,6.04 20.96,0 13.5,0Z" fill="#ea4335" stroke="#fff" stroke-opacity="0.9" stroke-width="1.7"/><circle cx="13.5" cy="13.5" r="4.8" fill="#8c1a12"/></g><g transform="translate(593.50,523.83) scale(0.504)"><path d="M13.5,0C6.04,0 0,6.04 0,13.5C0,23.6 13.5,43 13.5,43S27,23.6 27,13.5C27,6.04 20.96,0 13.5,0Z" fill="#ea4335" stroke="#fff" stroke-opacity="0.9" stroke-width="1.7"/><circle cx="13.5" cy="13.5" r="4.8" fill="#8c1a12"/></g><g transform="translate(568.65,523.93) scale(0.504)"><path d="M13.5,0C6.04,0 0,6.04 0,13.5C0,23.6 13.5,43 13.5,43S27,23.6 27,13.5C27,6.04 20.96,0 13.5,0Z" fill="#ea4335" stroke="#fff" stroke-opacity="0.9" stroke-width="1.7"/><circle cx="13.5" cy="13.5" r="4.8" fill="#8c1a12"/></g><g transform="translate(581.20,524.33) scale(0.504)"><path d="M13.5,0C6.04,0 0,6.04 0,13.5C0,23.6 13.5,43 13.5,43S27,23.6 27,13.5C27,6.04 20.96,0 13.5,0Z" fill="#ea4335" stroke="#fff" stroke-opacity="0.9" stroke-width="1.7"/><circle cx="13.5" cy="13.5" r="4.8" fill="#8c1a12"/></g><g transform="translate(554.40,524.63) scale(0.504)"><path d="M13.5,0C6.04,0 0,6.04 0,13.5C0,23.6 13.5,43 13.5,43S27,23.6 27,13.5C27,6.04 20.96,0 13.5,0Z" fill="#ea4335" stroke="#fff" stroke-opacity="0.9" stroke-width="1.7"/><circle cx="13.5" cy="13.5" r="4.8" fill="#8c1a12"/></g><g transform="translate(587.20,524.63) scale(0.504)"><path d="M13.5,0C6.04,0 0,6.04 0,13.5C0,23.6 13.5,43 13.5,43S27,23.6 27,13.5C27,6.04 20.96,0 13.5,0Z" fill="#ea4335" stroke="#fff" stroke-opacity="0.9" stroke-width="1.7"/><circle cx="13.5" cy="13.5" r="4.8" fill="#8c1a12"/></g><g transform="translate(567.40,525.03) scale(0.504)"><path d="M13.5,0C6.04,0 0,6.04 0,13.5C0,23.6 13.5,43 13.5,43S27,23.6 27,13.5C27,6.04 20.96,0 13.5,0Z" fill="#ea4335" stroke="#fff" stroke-opacity="0.9" stroke-width="1.7"/><circle cx="13.5" cy="13.5" r="4.8" fill="#8c1a12"/></g><g transform="translate(599.20,525.33) scale(0.504)"><path d="M13.5,0C6.04,0 0,6.04 0,13.5C0,23.6 13.5,43 13.5,43S27,23.6 27,13.5C27,6.04 20.96,0 13.5,0Z" fill="#ea4335" stroke="#fff" stroke-opacity="0.9" stroke-width="1.7"/><circle cx="13.5" cy="13.5" r="4.8" fill="#8c1a12"/></g><g transform="translate(636.10,526.03) scale(0.504)"><path d="M13.5,0C6.04,0 0,6.04 0,13.5C0,23.6 13.5,43 13.5,43S27,23.6 27,13.5C27,6.04 20.96,0 13.5,0Z" fill="#ea4335" stroke="#fff" stroke-opacity="0.9" stroke-width="1.7"/><circle cx="13.5" cy="13.5" r="4.8" fill="#8c1a12"/></g><g transform="translate(604.20,526.33) scale(0.504)"><path d="M13.5,0C6.04,0 0,6.04 0,13.5C0,23.6 13.5,43 13.5,43S27,23.6 27,13.5C27,6.04 20.96,0 13.5,0Z" fill="#ea4335" stroke="#fff" stroke-opacity="0.9" stroke-width="1.7"/><circle cx="13.5" cy="13.5" r="4.8" fill="#8c1a12"/></g><g transform="translate(583.20,530.33) scale(0.504)"><path d="M13.5,0C6.04,0 0,6.04 0,13.5C0,23.6 13.5,43 13.5,43S27,23.6 27,13.5C27,6.04 20.96,0 13.5,0Z" fill="#ea4335" stroke="#fff" stroke-opacity="0.9" stroke-width="1.7"/><circle cx="13.5" cy="13.5" r="4.8" fill="#8c1a12"/></g><g transform="translate(602.90,530.33) scale(0.504)"><path d="M13.5,0C6.04,0 0,6.04 0,13.5C0,23.6 13.5,43 13.5,43S27,23.6 27,13.5C27,6.04 20.96,0 13.5,0Z" fill="#ea4335" stroke="#fff" stroke-opacity="0.9" stroke-width="1.7"/><circle cx="13.5" cy="13.5" r="4.8" fill="#8c1a12"/></g><g transform="translate(526.90,530.43) scale(0.504)"><path d="M13.5,0C6.04,0 0,6.04 0,13.5C0,23.6 13.5,43 13.5,43S27,23.6 27,13.5C27,6.04 20.96,0 13.5,0Z" fill="#ea4335" stroke="#fff" stroke-opacity="0.9" stroke-width="1.7"/><circle cx="13.5" cy="13.5" r="4.8" fill="#8c1a12"/></g><g transform="translate(603.00,530.63) scale(0.504)"><path d="M13.5,0C6.04,0 0,6.04 0,13.5C0,23.6 13.5,43 13.5,43S27,23.6 27,13.5C27,6.04 20.96,0 13.5,0Z" fill="#ea4335" stroke="#fff" stroke-opacity="0.9" stroke-width="1.7"/><circle cx="13.5" cy="13.5" r="4.8" fill="#8c1a12"/></g><g transform="translate(573.20,530.73) scale(0.504)"><path d="M13.5,0C6.04,0 0,6.04 0,13.5C0,23.6 13.5,43 13.5,43S27,23.6 27,13.5C27,6.04 20.96,0 13.5,0Z" fill="#ea4335" stroke="#fff" stroke-opacity="0.9" stroke-width="1.7"/><circle cx="13.5" cy="13.5" r="4.8" fill="#8c1a12"/></g><g transform="translate(572.20,531.03) scale(0.504)"><path d="M13.5,0C6.04,0 0,6.04 0,13.5C0,23.6 13.5,43 13.5,43S27,23.6 27,13.5C27,6.04 20.96,0 13.5,0Z" fill="#ea4335" stroke="#fff" stroke-opacity="0.9" stroke-width="1.7"/><circle cx="13.5" cy="13.5" r="4.8" fill="#8c1a12"/></g><g transform="translate(578.20,531.33) scale(0.504)"><path d="M13.5,0C6.04,0 0,6.04 0,13.5C0,23.6 13.5,43 13.5,43S27,23.6 27,13.5C27,6.04 20.96,0 13.5,0Z" fill="#ea4335" stroke="#fff" stroke-opacity="0.9" stroke-width="1.7"/><circle cx="13.5" cy="13.5" r="4.8" fill="#8c1a12"/></g><g transform="translate(589.20,531.33) scale(0.504)"><path d="M13.5,0C6.04,0 0,6.04 0,13.5C0,23.6 13.5,43 13.5,43S27,23.6 27,13.5C27,6.04 20.96,0 13.5,0Z" fill="#ea4335" stroke="#fff" stroke-opacity="0.9" stroke-width="1.7"/><circle cx="13.5" cy="13.5" r="4.8" fill="#8c1a12"/></g><g transform="translate(596.20,531.33) scale(0.504)"><path d="M13.5,0C6.04,0 0,6.04 0,13.5C0,23.6 13.5,43 13.5,43S27,23.6 27,13.5C27,6.04 20.96,0 13.5,0Z" fill="#ea4335" stroke="#fff" stroke-opacity="0.9" stroke-width="1.7"/><circle cx="13.5" cy="13.5" r="4.8" fill="#8c1a12"/></g><g transform="translate(563.10,532.93) scale(0.504)"><path d="M13.5,0C6.04,0 0,6.04 0,13.5C0,23.6 13.5,43 13.5,43S27,23.6 27,13.5C27,6.04 20.96,0 13.5,0Z" fill="#ea4335" stroke="#fff" stroke-opacity="0.9" stroke-width="1.7"/><circle cx="13.5" cy="13.5" r="4.8" fill="#8c1a12"/></g><g transform="translate(607.20,533.33) scale(0.504)"><path d="M13.5,0C6.04,0 0,6.04 0,13.5C0,23.6 13.5,43 13.5,43S27,23.6 27,13.5C27,6.04 20.96,0 13.5,0Z" fill="#ea4335" stroke="#fff" stroke-opacity="0.9" stroke-width="1.7"/><circle cx="13.5" cy="13.5" r="4.8" fill="#8c1a12"/></g><g transform="translate(594.05,534.33) scale(0.504)"><path d="M13.5,0C6.04,0 0,6.04 0,13.5C0,23.6 13.5,43 13.5,43S27,23.6 27,13.5C27,6.04 20.96,0 13.5,0Z" fill="#ea4335" stroke="#fff" stroke-opacity="0.9" stroke-width="1.7"/><circle cx="13.5" cy="13.5" r="4.8" fill="#8c1a12"/></g><g transform="translate(594.95,535.13) scale(0.504)"><path d="M13.5,0C6.04,0 0,6.04 0,13.5C0,23.6 13.5,43 13.5,43S27,23.6 27,13.5C27,6.04 20.96,0 13.5,0Z" fill="#ea4335" stroke="#fff" stroke-opacity="0.9" stroke-width="1.7"/><circle cx="13.5" cy="13.5" r="4.8" fill="#8c1a12"/></g><g transform="translate(595.85,535.93) scale(0.504)"><path d="M13.5,0C6.04,0 0,6.04 0,13.5C0,23.6 13.5,43 13.5,43S27,23.6 27,13.5C27,6.04 20.96,0 13.5,0Z" fill="#ea4335" stroke="#fff" stroke-opacity="0.9" stroke-width="1.7"/><circle cx="13.5" cy="13.5" r="4.8" fill="#8c1a12"/></g><g transform="translate(596.75,536.73) scale(0.504)"><path d="M13.5,0C6.04,0 0,6.04 0,13.5C0,23.6 13.5,43 13.5,43S27,23.6 27,13.5C27,6.04 20.96,0 13.5,0Z" fill="#ea4335" stroke="#fff" stroke-opacity="0.9" stroke-width="1.7"/><circle cx="13.5" cy="13.5" r="4.8" fill="#8c1a12"/></g><g transform="translate(597.65,537.53) scale(0.504)"><path d="M13.5,0C6.04,0 0,6.04 0,13.5C0,23.6 13.5,43 13.5,43S27,23.6 27,13.5C27,6.04 20.96,0 13.5,0Z" fill="#ea4335" stroke="#fff" stroke-opacity="0.9" stroke-width="1.7"/><circle cx="13.5" cy="13.5" r="4.8" fill="#8c1a12"/></g><g transform="translate(582.40,537.73) scale(0.504)"><path d="M13.5,0C6.04,0 0,6.04 0,13.5C0,23.6 13.5,43 13.5,43S27,23.6 27,13.5C27,6.04 20.96,0 13.5,0Z" fill="#ea4335" stroke="#fff" stroke-opacity="0.9" stroke-width="1.7"/><circle cx="13.5" cy="13.5" r="4.8" fill="#8c1a12"/></g><g transform="translate(588.20,538.33) scale(0.504)"><path d="M13.5,0C6.04,0 0,6.04 0,13.5C0,23.6 13.5,43 13.5,43S27,23.6 27,13.5C27,6.04 20.96,0 13.5,0Z" fill="#ea4335" stroke="#fff" stroke-opacity="0.9" stroke-width="1.7"/><circle cx="13.5" cy="13.5" r="4.8" fill="#8c1a12"/></g><g transform="translate(598.55,538.33) scale(0.504)"><path d="M13.5,0C6.04,0 0,6.04 0,13.5C0,23.6 13.5,43 13.5,43S27,23.6 27,13.5C27,6.04 20.96,0 13.5,0Z" fill="#ea4335" stroke="#fff" stroke-opacity="0.9" stroke-width="1.7"/><circle cx="13.5" cy="13.5" r="4.8" fill="#8c1a12"/></g><g transform="translate(583.40,538.93) scale(0.504)"><path d="M13.5,0C6.04,0 0,6.04 0,13.5C0,23.6 13.5,43 13.5,43S27,23.6 27,13.5C27,6.04 20.96,0 13.5,0Z" fill="#ea4335" stroke="#fff" stroke-opacity="0.9" stroke-width="1.7"/><circle cx="13.5" cy="13.5" r="4.8" fill="#8c1a12"/></g><g transform="translate(599.45,539.13) scale(0.504)"><path d="M13.5,0C6.04,0 0,6.04 0,13.5C0,23.6 13.5,43 13.5,43S27,23.6 27,13.5C27,6.04 20.96,0 13.5,0Z" fill="#ea4335" stroke="#fff" stroke-opacity="0.9" stroke-width="1.7"/><circle cx="13.5" cy="13.5" r="4.8" fill="#8c1a12"/></g><g transform="translate(593.20,539.33) scale(0.504)"><path d="M13.5,0C6.04,0 0,6.04 0,13.5C0,23.6 13.5,43 13.5,43S27,23.6 27,13.5C27,6.04 20.96,0 13.5,0Z" fill="#ea4335" stroke="#fff" stroke-opacity="0.9" stroke-width="1.7"/><circle cx="13.5" cy="13.5" r="4.8" fill="#8c1a12"/></g><g transform="translate(577.20,539.33) scale(0.504)"><path d="M13.5,0C6.04,0 0,6.04 0,13.5C0,23.6 13.5,43 13.5,43S27,23.6 27,13.5C27,6.04 20.96,0 13.5,0Z" fill="#ea4335" stroke="#fff" stroke-opacity="0.9" stroke-width="1.7"/><circle cx="13.5" cy="13.5" r="4.8" fill="#8c1a12"/></g><g transform="translate(559.90,540.33) scale(0.504)"><path d="M13.5,0C6.04,0 0,6.04 0,13.5C0,23.6 13.5,43 13.5,43S27,23.6 27,13.5C27,6.04 20.96,0 13.5,0Z" fill="#ea4335" stroke="#fff" stroke-opacity="0.9" stroke-width="1.7"/><circle cx="13.5" cy="13.5" r="4.8" fill="#8c1a12"/></g><g transform="translate(598.20,540.33) scale(0.504)"><path d="M13.5,0C6.04,0 0,6.04 0,13.5C0,23.6 13.5,43 13.5,43S27,23.6 27,13.5C27,6.04 20.96,0 13.5,0Z" fill="#ea4335" stroke="#fff" stroke-opacity="0.9" stroke-width="1.7"/><circle cx="13.5" cy="13.5" r="4.8" fill="#8c1a12"/></g><g transform="translate(603.20,541.33) scale(0.504)"><path d="M13.5,0C6.04,0 0,6.04 0,13.5C0,23.6 13.5,43 13.5,43S27,23.6 27,13.5C27,6.04 20.96,0 13.5,0Z" fill="#ea4335" stroke="#fff" stroke-opacity="0.9" stroke-width="1.7"/><circle cx="13.5" cy="13.5" r="4.8" fill="#8c1a12"/></g><g transform="translate(572.20,541.33) scale(0.504)"><path d="M13.5,0C6.04,0 0,6.04 0,13.5C0,23.6 13.5,43 13.5,43S27,23.6 27,13.5C27,6.04 20.96,0 13.5,0Z" fill="#ea4335" stroke="#fff" stroke-opacity="0.9" stroke-width="1.7"/><circle cx="13.5" cy="13.5" r="4.8" fill="#8c1a12"/></g><g transform="translate(606.80,543.33) scale(0.504)"><path d="M13.5,0C6.04,0 0,6.04 0,13.5C0,23.6 13.5,43 13.5,43S27,23.6 27,13.5C27,6.04 20.96,0 13.5,0Z" fill="#ea4335" stroke="#fff" stroke-opacity="0.9" stroke-width="1.7"/><circle cx="13.5" cy="13.5" r="4.8" fill="#8c1a12"/></g><g transform="translate(585.20,543.33) scale(0.504)"><path d="M13.5,0C6.04,0 0,6.04 0,13.5C0,23.6 13.5,43 13.5,43S27,23.6 27,13.5C27,6.04 20.96,0 13.5,0Z" fill="#ea4335" stroke="#fff" stroke-opacity="0.9" stroke-width="1.7"/><circle cx="13.5" cy="13.5" r="4.8" fill="#8c1a12"/></g><g transform="translate(628.00,544.93) scale(0.504)"><path d="M13.5,0C6.04,0 0,6.04 0,13.5C0,23.6 13.5,43 13.5,43S27,23.6 27,13.5C27,6.04 20.96,0 13.5,0Z" fill="#ea4335" stroke="#fff" stroke-opacity="0.9" stroke-width="1.7"/><circle cx="13.5" cy="13.5" r="4.8" fill="#8c1a12"/></g><g transform="translate(610.20,545.33) scale(0.504)"><path d="M13.5,0C6.04,0 0,6.04 0,13.5C0,23.6 13.5,43 13.5,43S27,23.6 27,13.5C27,6.04 20.96,0 13.5,0Z" fill="#ea4335" stroke="#fff" stroke-opacity="0.9" stroke-width="1.7"/><circle cx="13.5" cy="13.5" r="4.8" fill="#8c1a12"/></g><g transform="translate(590.20,545.33) scale(0.504)"><path d="M13.5,0C6.04,0 0,6.04 0,13.5C0,23.6 13.5,43 13.5,43S27,23.6 27,13.5C27,6.04 20.96,0 13.5,0Z" fill="#ea4335" stroke="#fff" stroke-opacity="0.9" stroke-width="1.7"/><circle cx="13.5" cy="13.5" r="4.8" fill="#8c1a12"/></g><g transform="translate(576.40,547.63) scale(0.504)"><path d="M13.5,0C6.04,0 0,6.04 0,13.5C0,23.6 13.5,43 13.5,43S27,23.6 27,13.5C27,6.04 20.96,0 13.5,0Z" fill="#ea4335" stroke="#fff" stroke-opacity="0.9" stroke-width="1.7"/><circle cx="13.5" cy="13.5" r="4.8" fill="#8c1a12"/></g><g transform="translate(600.20,549.33) scale(0.504)"><path d="M13.5,0C6.04,0 0,6.04 0,13.5C0,23.6 13.5,43 13.5,43S27,23.6 27,13.5C27,6.04 20.96,0 13.5,0Z" fill="#ea4335" stroke="#fff" stroke-opacity="0.9" stroke-width="1.7"/><circle cx="13.5" cy="13.5" r="4.8" fill="#8c1a12"/></g><g transform="translate(604.20,549.33) scale(0.504)"><path d="M13.5,0C6.04,0 0,6.04 0,13.5C0,23.6 13.5,43 13.5,43S27,23.6 27,13.5C27,6.04 20.96,0 13.5,0Z" fill="#ea4335" stroke="#fff" stroke-opacity="0.9" stroke-width="1.7"/><circle cx="13.5" cy="13.5" r="4.8" fill="#8c1a12"/></g><g transform="translate(596.00,551.13) scale(0.504)"><path d="M13.5,0C6.04,0 0,6.04 0,13.5C0,23.6 13.5,43 13.5,43S27,23.6 27,13.5C27,6.04 20.96,0 13.5,0Z" fill="#ea4335" stroke="#fff" stroke-opacity="0.9" stroke-width="1.7"/><circle cx="13.5" cy="13.5" r="4.8" fill="#8c1a12"/></g><g transform="translate(567.70,552.83) scale(0.504)"><path d="M13.5,0C6.04,0 0,6.04 0,13.5C0,23.6 13.5,43 13.5,43S27,23.6 27,13.5C27,6.04 20.96,0 13.5,0Z" fill="#ea4335" stroke="#fff" stroke-opacity="0.9" stroke-width="1.7"/><circle cx="13.5" cy="13.5" r="4.8" fill="#8c1a12"/></g><g transform="translate(577.85,553.33) scale(0.504)"><path d="M13.5,0C6.04,0 0,6.04 0,13.5C0,23.6 13.5,43 13.5,43S27,23.6 27,13.5C27,6.04 20.96,0 13.5,0Z" fill="#ea4335" stroke="#fff" stroke-opacity="0.9" stroke-width="1.7"/><circle cx="13.5" cy="13.5" r="4.8" fill="#8c1a12"/></g><g transform="translate(578.75,554.13) scale(0.504)"><path d="M13.5,0C6.04,0 0,6.04 0,13.5C0,23.6 13.5,43 13.5,43S27,23.6 27,13.5C27,6.04 20.96,0 13.5,0Z" fill="#ea4335" stroke="#fff" stroke-opacity="0.9" stroke-width="1.7"/><circle cx="13.5" cy="13.5" r="4.8" fill="#8c1a12"/></g><g transform="translate(579.65,554.93) scale(0.504)"><path d="M13.5,0C6.04,0 0,6.04 0,13.5C0,23.6 13.5,43 13.5,43S27,23.6 27,13.5C27,6.04 20.96,0 13.5,0Z" fill="#ea4335" stroke="#fff" stroke-opacity="0.9" stroke-width="1.7"/><circle cx="13.5" cy="13.5" r="4.8" fill="#8c1a12"/></g><g transform="translate(578.60,559.83) scale(0.504)"><path d="M13.5,0C6.04,0 0,6.04 0,13.5C0,23.6 13.5,43 13.5,43S27,23.6 27,13.5C27,6.04 20.96,0 13.5,0Z" fill="#ea4335" stroke="#fff" stroke-opacity="0.9" stroke-width="1.7"/><circle cx="13.5" cy="13.5" r="4.8" fill="#8c1a12"/></g><g transform="translate(578.40,568.33) scale(0.504)"><path d="M13.5,0C6.04,0 0,6.04 0,13.5C0,23.6 13.5,43 13.5,43S27,23.6 27,13.5C27,6.04 20.96,0 13.5,0Z" fill="#ea4335" stroke="#fff" stroke-opacity="0.9" stroke-width="1.7"/><circle cx="13.5" cy="13.5" r="4.8" fill="#8c1a12"/></g><g transform="translate(579.30,569.13) scale(0.504)"><path d="M13.5,0C6.04,0 0,6.04 0,13.5C0,23.6 13.5,43 13.5,43S27,23.6 27,13.5C27,6.04 20.96,0 13.5,0Z" fill="#ea4335" stroke="#fff" stroke-opacity="0.9" stroke-width="1.7"/><circle cx="13.5" cy="13.5" r="4.8" fill="#8c1a12"/></g><g transform="translate(577.20,569.33) scale(0.504)"><path d="M13.5,0C6.04,0 0,6.04 0,13.5C0,23.6 13.5,43 13.5,43S27,23.6 27,13.5C27,6.04 20.96,0 13.5,0Z" fill="#ea4335" stroke="#fff" stroke-opacity="0.9" stroke-width="1.7"/><circle cx="13.5" cy="13.5" r="4.8" fill="#8c1a12"/></g><g transform="translate(580.20,569.93) scale(0.504)"><path d="M13.5,0C6.04,0 0,6.04 0,13.5C0,23.6 13.5,43 13.5,43S27,23.6 27,13.5C27,6.04 20.96,0 13.5,0Z" fill="#ea4335" stroke="#fff" stroke-opacity="0.9" stroke-width="1.7"/><circle cx="13.5" cy="13.5" r="4.8" fill="#8c1a12"/></g><g transform="translate(579.20,570.33) scale(0.504)"><path d="M13.5,0C6.04,0 0,6.04 0,13.5C0,23.6 13.5,43 13.5,43S27,23.6 27,13.5C27,6.04 20.96,0 13.5,0Z" fill="#ea4335" stroke="#fff" stroke-opacity="0.9" stroke-width="1.7"/><circle cx="13.5" cy="13.5" r="4.8" fill="#8c1a12"/></g><g transform="translate(581.10,570.73) scale(0.504)"><path d="M13.5,0C6.04,0 0,6.04 0,13.5C0,23.6 13.5,43 13.5,43S27,23.6 27,13.5C27,6.04 20.96,0 13.5,0Z" fill="#ea4335" stroke="#fff" stroke-opacity="0.9" stroke-width="1.7"/><circle cx="13.5" cy="13.5" r="4.8" fill="#8c1a12"/></g><g transform="translate(582.10,571.53) scale(0.504)"><path d="M13.5,0C6.04,0 0,6.04 0,13.5C0,23.6 13.5,43 13.5,43S27,23.6 27,13.5C27,6.04 20.96,0 13.5,0Z" fill="#ea4335" stroke="#fff" stroke-opacity="0.9" stroke-width="1.7"/><circle cx="13.5" cy="13.5" r="4.8" fill="#8c1a12"/></g><g transform="translate(688.80,573.23) scale(0.504)"><path d="M13.5,0C6.04,0 0,6.04 0,13.5C0,23.6 13.5,43 13.5,43S27,23.6 27,13.5C27,6.04 20.96,0 13.5,0Z" fill="#ea4335" stroke="#fff" stroke-opacity="0.9" stroke-width="1.7"/><circle cx="13.5" cy="13.5" r="4.8" fill="#8c1a12"/></g></svg>
<div class="a" style="left:190.8px;top:409px;width:50px;height:15.8px;background:#fff;border-radius:1px;box-shadow:0 0.5px 2px rgba(0,0,0,.25)"></div><div class="a" style="left:211.2px;top:411px;width:0.6px;height:11.8px;background:#e6e6e6"></div><div class="t" style="left:194.90px;top:414.31px;font-size:5.9px;color:#000;font-weight:bold;">Map</div><div class="t" style="left:215.70px;top:414.31px;font-size:5.9px;color:#565656;">Satellite</div><div class="a" style="left:991.7px;top:409.2px;width:13.3px;height:13.4px;background:#fff;border-radius:1px;box-shadow:0 0.5px 2px rgba(0,0,0,.25)"></div><svg class="a" style="left:991.7px;top:409.2px" width="13.3" height="13.4" viewBox="0 0 13.3 13.4"><path d="M3.3,5.4V3.4H5.3M8,3.4H10V5.4M10,8V10H8M5.3,10H3.3V8" fill="none" stroke="#666" stroke-width="1.1"/></svg><div class="a" style="left:992.2px;top:559.9px;width:14.5px;height:14.7px;background:#fff;border-radius:1px;box-shadow:0 0.5px 2px rgba(0,0,0,.25)"></div><svg class="a" style="left:992.2px;top:559.9px" width="14.5" height="14.7" viewBox="0 0 14.5 14.7"><circle cx="7.25" cy="3.6" r="1.5" fill="#f5a623"/><path d="M5.4,5.6h3.7l0.5,4h-1.1l-0.3,3.2h-1.9l-0.3,-3.2h-1.1z" fill="#f5a623"/></svg><div class="a" style="left:992.2px;top:580.6px;width:14.5px;height:29.2px;background:#fff;border-radius:1px;box-shadow:0 0.5px 2px rgba(0,0,0,.25)"></div><div class="a" style="left:994.5px;top:595.1px;width:10px;height:0.6px;background:#e6e6e6"></div><svg class="a" style="left:992.2px;top:580.6px" width="14.5" height="29.2" viewBox="0 0 14.5 29.2"><path d="M7.25,3.9v6M4.25,6.9h6M4.25,22.1h6" stroke="#666" stroke-width="1.3" fill="none"/></svg><div class="a" style="left:865px;top:616px;width:147.5px;height:6.8px;background:rgba(245,245,245,0.72)"></div><div class="a" style="left:973.6px;top:616px;width:1px;height:6.8px;background:#fff;opacity:.6"></div><div class="t" style="left:867.80px;top:617.14px;font-size:5.15px;color:#444;">Map data ©2018 Google, INEGI, ORION-ME</div><div class="t" style="left:977.40px;top:617.14px;font-size:5.15px;color:#444;letter-spacing:0.15px;">Terms of Use</div><div class="t" style="left:188.6px;top:610.6px;font-size:10.4px;line-height:1;font-weight:bold;letter-spacing:-0.4px;text-shadow:0 0 1px #fff,0 0 1px #fff"><span style="color:#4285f4">G</span><span style="color:#ea4335">o</span><span style="color:#fbbc05">o</span><span style="color:#4285f4">g</span><span style="color:#34a853">l</span><span style="color:#ea4335">e</span></div>
</body></html>
